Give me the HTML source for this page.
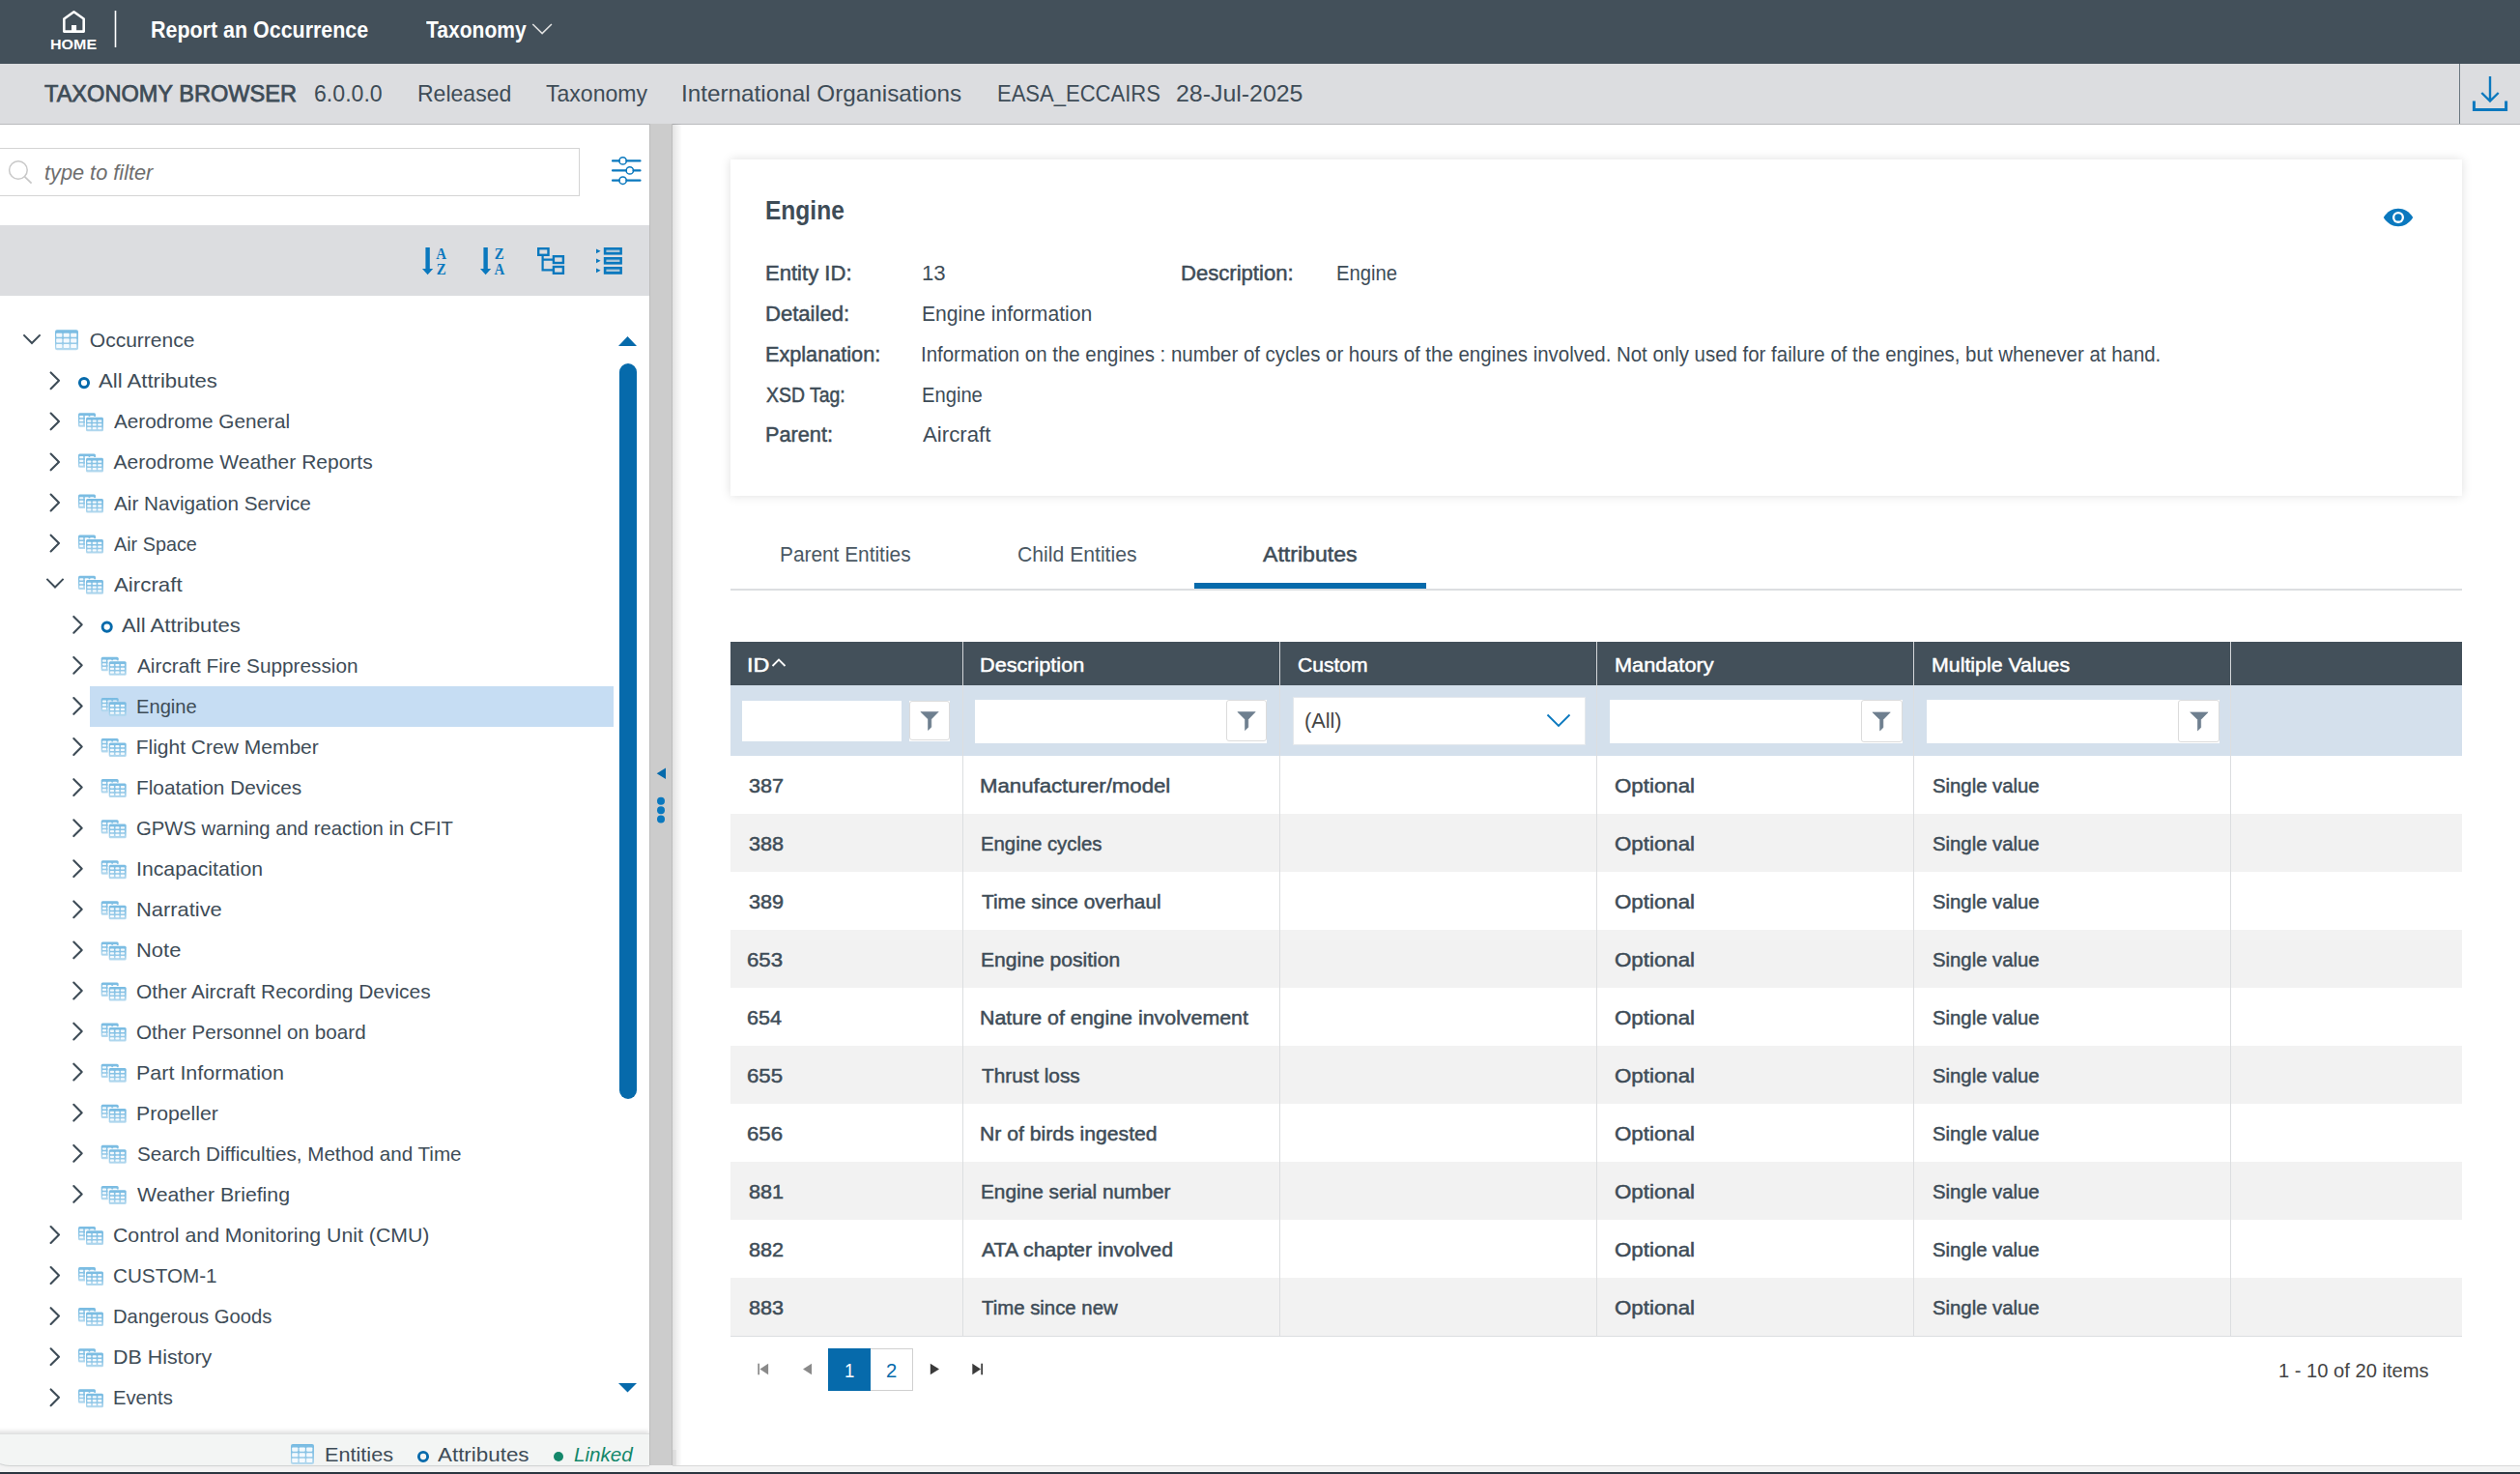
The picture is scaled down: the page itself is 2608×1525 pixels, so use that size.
<!DOCTYPE html><html><head><meta charset="utf-8"><style>
html,body{margin:0;padding:0;width:2608px;height:1525px;overflow:hidden;background:#fff;font-family:"Liberation Sans", sans-serif;}
.a{position:absolute;}
.tx{position:absolute;white-space:nowrap;transform-origin:0 0;}
svg{position:absolute;overflow:visible;}

</style></head><body>
<div class="a" style="left:0px;top:0px;width:2608px;height:66px;background:#43505a;"></div>
<svg style="left:0;top:0" width="200" height="66"><path d="M66.3 19.5 L76.5 12.3 L86.7 19.5 L86.7 32.6 L66.3 32.6 Z" fill="none" stroke="#fff" stroke-width="2.6" stroke-linejoin="round"/><rect x="74" y="26" width="5.1" height="7" fill="#fff"/><rect x="118.7" y="11" width="1.6" height="38" fill="#fff"/></svg>
<svg style="left:0;top:0" width="600" height="66"><path d="M551.3 25 L561.1 34.6 L570.9 25" fill="none" stroke="#e0e0e0" stroke-width="1.6"/></svg>
<div class="a" style="left:0px;top:66px;width:2608px;height:62px;background:#dcdde0;"></div>
<div class="a" style="left:0px;top:128px;width:2608px;height:1px;background:#b9babd;"></div>
<div class="a" style="left:2544.5px;top:66px;width:1.300000000000182px;height:62px;background:#6b7780;"></div>
<svg style="left:0;top:0" width="2608" height="130"><path d="M2577 79 L2577 104.5 M2568.3 96 L2577 104.5 L2585.7 96" fill="none" stroke="#0a78be" stroke-width="2.4"/><path d="M2560.4 104.5 L2560.4 113.6 L2593.6 113.6 L2593.6 104.5" fill="none" stroke="#0a78be" stroke-width="3"/></svg>
<div class="a" style="left:-2px;top:153px;width:601.5px;height:50px;background:#fff;border:1px solid #d4d4d4;box-sizing:border-box;"></div>
<svg style="left:0;top:0" width="60" height="220"><circle cx="18.9" cy="176" r="9.3" fill="none" stroke="#c8c8c8" stroke-width="1.5"/><path d="M25.6 182.8 L32.6 189.6" stroke="#c8c8c8" stroke-width="1.8"/></svg>
<svg style="left:0;top:0" width="700" height="220"><g stroke="#0a78be" stroke-width="2.2" fill="none" stroke-linecap="round">
<path d="M634 166.4 H640.8 M648.4 166.4 H662.5"/><circle cx="644.6" cy="166.4" r="3.7" stroke-width="1.5"/>
<path d="M634 176.4 H648 M655.6 176.4 H662.5"/><circle cx="651.8" cy="176.4" r="3.7" stroke-width="1.5"/>
<path d="M634 186.7 H640.8 M648.4 186.7 H662.5"/><circle cx="644.6" cy="186.7" r="3.7" stroke-width="1.5"/>
</g></svg>
<div class="a" style="left:0px;top:233px;width:672px;height:72.5px;background:#dcdde0;"></div>
<svg style="left:0;top:0" width="700" height="320"><g fill="#0a78be">
<rect x="440.4" y="256" width="4.4" height="23"/><path d="M437 278 L448.2 278 L442.6 284.2 Z"/>
<text x="456.6" y="268" font-family="Liberation Serif" font-weight="bold" font-size="16.5" text-anchor="middle" transform="translate(456.6,0) scale(0.9,1) translate(-456.6,0)">A</text>
<text x="456.6" y="284.2" font-family="Liberation Serif" font-weight="bold" font-size="16.5" text-anchor="middle" transform="translate(456.6,0) scale(0.9,1) translate(-456.6,0)">Z</text>
<rect x="500.4" y="256" width="4.4" height="23"/><path d="M497 278 L508.2 278 L502.6 284.2 Z"/>
<text x="516.8" y="268" font-family="Liberation Serif" font-weight="bold" font-size="16.5" text-anchor="middle" transform="translate(516.8,0) scale(0.9,1) translate(-516.8,0)">Z</text>
<text x="516.8" y="284.2" font-family="Liberation Serif" font-weight="bold" font-size="16.5" text-anchor="middle" transform="translate(516.8,0) scale(0.9,1) translate(-516.8,0)">A</text>
</g>
<g stroke="#0a78be" fill="none" stroke-width="2.4">
<rect x="557.2" y="257.2" width="10.3" height="6.6"/>
<rect x="572.9" y="265.2" width="10" height="6.8"/>
<rect x="572.9" y="276" width="10" height="6.8"/>
<path d="M561.6 264 V279.4 H572.9 M561.6 268.6 H572.9" stroke-width="2.2"/>
</g>
<g fill="#0a78be">
<rect x="624.8" y="256" width="19.1" height="7.6"/><rect x="627.4" y="258.6" width="14" height="2.4" fill="#dcdde0" opacity="0.75"/>
<rect x="624.8" y="266" width="19.1" height="7.6"/><rect x="627.4" y="268.6" width="14" height="2.4" fill="#dcdde0" opacity="0.75"/>
<rect x="624.8" y="276" width="19.1" height="7.8"/><rect x="627.4" y="278.6" width="14" height="2.4" fill="#dcdde0" opacity="0.75"/>
<path d="M617 257.4 L621.6 259.8 L617 262.2 Z"/><path d="M617 267.4 L621.6 269.8 L617 272.2 Z"/><path d="M617 277.4 L621.6 279.8 L617 282.2 Z"/>
</g></svg>
<div class="a" style="left:93px;top:710px;width:541.6px;height:42px;background:#c6ddf3;"></div>
<svg style="left:0;top:0" width="700" height="1525"><defs><linearGradient id="tg" x1="0" y1="0" x2="0" y2="1"><stop offset="0" stop-color="#78bbe2"/><stop offset="0.6" stop-color="#90c7e7"/><stop offset="1" stop-color="#b6daef"/></linearGradient></defs><path d="M24.4 346.4 L33.0 355.0 L41.6 346.4" fill="none" stroke="#3e4c57" stroke-width="2"/><rect x="57" y="341.2" width="24" height="21" rx="2.0" fill="url(#tg)"/><rect x="58.20" y="344.74" width="6.17" height="4.12" rx="0.8" fill="#fbfdff" opacity="0.93"/><rect x="65.67" y="344.74" width="6.17" height="4.12" rx="0.8" fill="#fbfdff" opacity="0.93"/><rect x="73.13" y="344.74" width="6.17" height="4.12" rx="0.8" fill="#fbfdff" opacity="0.93"/><rect x="58.20" y="350.36" width="6.17" height="4.12" rx="0.8" fill="#fbfdff" opacity="0.93"/><rect x="65.67" y="350.36" width="6.17" height="4.12" rx="0.8" fill="#fbfdff" opacity="0.93"/><rect x="73.13" y="350.36" width="6.17" height="4.12" rx="0.8" fill="#fbfdff" opacity="0.93"/><rect x="58.20" y="355.98" width="6.17" height="4.12" rx="0.8" fill="#fbfdff" opacity="0.93"/><rect x="65.67" y="355.98" width="6.17" height="4.12" rx="0.8" fill="#fbfdff" opacity="0.93"/><rect x="73.13" y="355.98" width="6.17" height="4.12" rx="0.8" fill="#fbfdff" opacity="0.93"/><path d="M52.6 385.4 L61.0 393.8 L52.6 402.2" fill="none" stroke="#3e4c57" stroke-width="2.1" stroke-linecap="round" stroke-linejoin="round"/><circle cx="87.0" cy="396.1" r="4.6" fill="none" stroke="#066aab" stroke-width="2.9"/><path d="M52.6 427.5 L61.0 435.9 L52.6 444.3" fill="none" stroke="#3e4c57" stroke-width="2.1" stroke-linecap="round" stroke-linejoin="round"/><rect x="81.0" y="427.35999999999996" width="18" height="14.4" rx="1.5" fill="url(#tg)"/><rect x="82.20" y="429.98" width="4.17" height="2.23" rx="0.8" fill="#fbfdff" opacity="0.93"/><rect x="87.67" y="429.98" width="4.17" height="2.23" rx="0.8" fill="#fbfdff" opacity="0.93"/><rect x="93.13" y="429.98" width="4.17" height="2.23" rx="0.8" fill="#fbfdff" opacity="0.93"/><rect x="82.20" y="433.70" width="4.17" height="2.23" rx="0.8" fill="#fbfdff" opacity="0.93"/><rect x="87.67" y="433.70" width="4.17" height="2.23" rx="0.8" fill="#fbfdff" opacity="0.93"/><rect x="93.13" y="433.70" width="4.17" height="2.23" rx="0.8" fill="#fbfdff" opacity="0.93"/><rect x="82.20" y="437.43" width="4.17" height="2.23" rx="0.8" fill="#fbfdff" opacity="0.93"/><rect x="87.67" y="437.43" width="4.17" height="2.23" rx="0.8" fill="#fbfdff" opacity="0.93"/><rect x="93.13" y="437.43" width="4.17" height="2.23" rx="0.8" fill="#fbfdff" opacity="0.93"/><rect x="88.0" y="431.0" width="19" height="15.6" fill="#fff"/><rect x="89.0" y="431.75999999999993" width="18" height="14.6" rx="1.5" fill="url(#tg)"/><rect x="90.20" y="434.40" width="4.17" height="2.29" rx="0.8" fill="#fbfdff" opacity="0.93"/><rect x="95.67" y="434.40" width="4.17" height="2.29" rx="0.8" fill="#fbfdff" opacity="0.93"/><rect x="101.13" y="434.40" width="4.17" height="2.29" rx="0.8" fill="#fbfdff" opacity="0.93"/><rect x="90.20" y="438.19" width="4.17" height="2.29" rx="0.8" fill="#fbfdff" opacity="0.93"/><rect x="95.67" y="438.19" width="4.17" height="2.29" rx="0.8" fill="#fbfdff" opacity="0.93"/><rect x="101.13" y="438.19" width="4.17" height="2.29" rx="0.8" fill="#fbfdff" opacity="0.93"/><rect x="90.20" y="441.97" width="4.17" height="2.29" rx="0.8" fill="#fbfdff" opacity="0.93"/><rect x="95.67" y="441.97" width="4.17" height="2.29" rx="0.8" fill="#fbfdff" opacity="0.93"/><rect x="101.13" y="441.97" width="4.17" height="2.29" rx="0.8" fill="#fbfdff" opacity="0.93"/><path d="M52.6 469.5 L61.0 477.9 L52.6 486.3" fill="none" stroke="#3e4c57" stroke-width="2.1" stroke-linecap="round" stroke-linejoin="round"/><rect x="81.0" y="469.44" width="18" height="14.4" rx="1.5" fill="url(#tg)"/><rect x="82.20" y="472.06" width="4.17" height="2.23" rx="0.8" fill="#fbfdff" opacity="0.93"/><rect x="87.67" y="472.06" width="4.17" height="2.23" rx="0.8" fill="#fbfdff" opacity="0.93"/><rect x="93.13" y="472.06" width="4.17" height="2.23" rx="0.8" fill="#fbfdff" opacity="0.93"/><rect x="82.20" y="475.78" width="4.17" height="2.23" rx="0.8" fill="#fbfdff" opacity="0.93"/><rect x="87.67" y="475.78" width="4.17" height="2.23" rx="0.8" fill="#fbfdff" opacity="0.93"/><rect x="93.13" y="475.78" width="4.17" height="2.23" rx="0.8" fill="#fbfdff" opacity="0.93"/><rect x="82.20" y="479.51" width="4.17" height="2.23" rx="0.8" fill="#fbfdff" opacity="0.93"/><rect x="87.67" y="479.51" width="4.17" height="2.23" rx="0.8" fill="#fbfdff" opacity="0.93"/><rect x="93.13" y="479.51" width="4.17" height="2.23" rx="0.8" fill="#fbfdff" opacity="0.93"/><rect x="88.0" y="473.0" width="19" height="15.6" fill="#fff"/><rect x="89.0" y="473.84" width="18" height="14.6" rx="1.5" fill="url(#tg)"/><rect x="90.20" y="476.48" width="4.17" height="2.29" rx="0.8" fill="#fbfdff" opacity="0.93"/><rect x="95.67" y="476.48" width="4.17" height="2.29" rx="0.8" fill="#fbfdff" opacity="0.93"/><rect x="101.13" y="476.48" width="4.17" height="2.29" rx="0.8" fill="#fbfdff" opacity="0.93"/><rect x="90.20" y="480.27" width="4.17" height="2.29" rx="0.8" fill="#fbfdff" opacity="0.93"/><rect x="95.67" y="480.27" width="4.17" height="2.29" rx="0.8" fill="#fbfdff" opacity="0.93"/><rect x="101.13" y="480.27" width="4.17" height="2.29" rx="0.8" fill="#fbfdff" opacity="0.93"/><rect x="90.20" y="484.05" width="4.17" height="2.29" rx="0.8" fill="#fbfdff" opacity="0.93"/><rect x="95.67" y="484.05" width="4.17" height="2.29" rx="0.8" fill="#fbfdff" opacity="0.93"/><rect x="101.13" y="484.05" width="4.17" height="2.29" rx="0.8" fill="#fbfdff" opacity="0.93"/><path d="M52.6 511.6 L61.0 520.0 L52.6 528.4" fill="none" stroke="#3e4c57" stroke-width="2.1" stroke-linecap="round" stroke-linejoin="round"/><rect x="81.0" y="511.5199999999999" width="18" height="14.4" rx="1.5" fill="url(#tg)"/><rect x="82.20" y="514.14" width="4.17" height="2.23" rx="0.8" fill="#fbfdff" opacity="0.93"/><rect x="87.67" y="514.14" width="4.17" height="2.23" rx="0.8" fill="#fbfdff" opacity="0.93"/><rect x="93.13" y="514.14" width="4.17" height="2.23" rx="0.8" fill="#fbfdff" opacity="0.93"/><rect x="82.20" y="517.86" width="4.17" height="2.23" rx="0.8" fill="#fbfdff" opacity="0.93"/><rect x="87.67" y="517.86" width="4.17" height="2.23" rx="0.8" fill="#fbfdff" opacity="0.93"/><rect x="93.13" y="517.86" width="4.17" height="2.23" rx="0.8" fill="#fbfdff" opacity="0.93"/><rect x="82.20" y="521.59" width="4.17" height="2.23" rx="0.8" fill="#fbfdff" opacity="0.93"/><rect x="87.67" y="521.59" width="4.17" height="2.23" rx="0.8" fill="#fbfdff" opacity="0.93"/><rect x="93.13" y="521.59" width="4.17" height="2.23" rx="0.8" fill="#fbfdff" opacity="0.93"/><rect x="88.0" y="515.1" width="19" height="15.6" fill="#fff"/><rect x="89.0" y="515.92" width="18" height="14.6" rx="1.5" fill="url(#tg)"/><rect x="90.20" y="518.56" width="4.17" height="2.29" rx="0.8" fill="#fbfdff" opacity="0.93"/><rect x="95.67" y="518.56" width="4.17" height="2.29" rx="0.8" fill="#fbfdff" opacity="0.93"/><rect x="101.13" y="518.56" width="4.17" height="2.29" rx="0.8" fill="#fbfdff" opacity="0.93"/><rect x="90.20" y="522.35" width="4.17" height="2.29" rx="0.8" fill="#fbfdff" opacity="0.93"/><rect x="95.67" y="522.35" width="4.17" height="2.29" rx="0.8" fill="#fbfdff" opacity="0.93"/><rect x="101.13" y="522.35" width="4.17" height="2.29" rx="0.8" fill="#fbfdff" opacity="0.93"/><rect x="90.20" y="526.13" width="4.17" height="2.29" rx="0.8" fill="#fbfdff" opacity="0.93"/><rect x="95.67" y="526.13" width="4.17" height="2.29" rx="0.8" fill="#fbfdff" opacity="0.93"/><rect x="101.13" y="526.13" width="4.17" height="2.29" rx="0.8" fill="#fbfdff" opacity="0.93"/><path d="M52.6 553.7 L61.0 562.1 L52.6 570.5" fill="none" stroke="#3e4c57" stroke-width="2.1" stroke-linecap="round" stroke-linejoin="round"/><rect x="81.0" y="553.5999999999999" width="18" height="14.4" rx="1.5" fill="url(#tg)"/><rect x="82.20" y="556.22" width="4.17" height="2.23" rx="0.8" fill="#fbfdff" opacity="0.93"/><rect x="87.67" y="556.22" width="4.17" height="2.23" rx="0.8" fill="#fbfdff" opacity="0.93"/><rect x="93.13" y="556.22" width="4.17" height="2.23" rx="0.8" fill="#fbfdff" opacity="0.93"/><rect x="82.20" y="559.94" width="4.17" height="2.23" rx="0.8" fill="#fbfdff" opacity="0.93"/><rect x="87.67" y="559.94" width="4.17" height="2.23" rx="0.8" fill="#fbfdff" opacity="0.93"/><rect x="93.13" y="559.94" width="4.17" height="2.23" rx="0.8" fill="#fbfdff" opacity="0.93"/><rect x="82.20" y="563.67" width="4.17" height="2.23" rx="0.8" fill="#fbfdff" opacity="0.93"/><rect x="87.67" y="563.67" width="4.17" height="2.23" rx="0.8" fill="#fbfdff" opacity="0.93"/><rect x="93.13" y="563.67" width="4.17" height="2.23" rx="0.8" fill="#fbfdff" opacity="0.93"/><rect x="88.0" y="557.2" width="19" height="15.6" fill="#fff"/><rect x="89.0" y="558.0" width="18" height="14.6" rx="1.5" fill="url(#tg)"/><rect x="90.20" y="560.64" width="4.17" height="2.29" rx="0.8" fill="#fbfdff" opacity="0.93"/><rect x="95.67" y="560.64" width="4.17" height="2.29" rx="0.8" fill="#fbfdff" opacity="0.93"/><rect x="101.13" y="560.64" width="4.17" height="2.29" rx="0.8" fill="#fbfdff" opacity="0.93"/><rect x="90.20" y="564.43" width="4.17" height="2.29" rx="0.8" fill="#fbfdff" opacity="0.93"/><rect x="95.67" y="564.43" width="4.17" height="2.29" rx="0.8" fill="#fbfdff" opacity="0.93"/><rect x="101.13" y="564.43" width="4.17" height="2.29" rx="0.8" fill="#fbfdff" opacity="0.93"/><rect x="90.20" y="568.21" width="4.17" height="2.29" rx="0.8" fill="#fbfdff" opacity="0.93"/><rect x="95.67" y="568.21" width="4.17" height="2.29" rx="0.8" fill="#fbfdff" opacity="0.93"/><rect x="101.13" y="568.21" width="4.17" height="2.29" rx="0.8" fill="#fbfdff" opacity="0.93"/><path d="M48.4 598.9 L57.0 607.5 L65.6 598.9" fill="none" stroke="#3e4c57" stroke-width="2"/><rect x="81.0" y="595.68" width="18" height="14.4" rx="1.5" fill="url(#tg)"/><rect x="82.20" y="598.30" width="4.17" height="2.23" rx="0.8" fill="#fbfdff" opacity="0.93"/><rect x="87.67" y="598.30" width="4.17" height="2.23" rx="0.8" fill="#fbfdff" opacity="0.93"/><rect x="93.13" y="598.30" width="4.17" height="2.23" rx="0.8" fill="#fbfdff" opacity="0.93"/><rect x="82.20" y="602.02" width="4.17" height="2.23" rx="0.8" fill="#fbfdff" opacity="0.93"/><rect x="87.67" y="602.02" width="4.17" height="2.23" rx="0.8" fill="#fbfdff" opacity="0.93"/><rect x="93.13" y="602.02" width="4.17" height="2.23" rx="0.8" fill="#fbfdff" opacity="0.93"/><rect x="82.20" y="605.75" width="4.17" height="2.23" rx="0.8" fill="#fbfdff" opacity="0.93"/><rect x="87.67" y="605.75" width="4.17" height="2.23" rx="0.8" fill="#fbfdff" opacity="0.93"/><rect x="93.13" y="605.75" width="4.17" height="2.23" rx="0.8" fill="#fbfdff" opacity="0.93"/><rect x="88.0" y="599.3" width="19" height="15.6" fill="#fff"/><rect x="89.0" y="600.08" width="18" height="14.6" rx="1.5" fill="url(#tg)"/><rect x="90.20" y="602.72" width="4.17" height="2.29" rx="0.8" fill="#fbfdff" opacity="0.93"/><rect x="95.67" y="602.72" width="4.17" height="2.29" rx="0.8" fill="#fbfdff" opacity="0.93"/><rect x="101.13" y="602.72" width="4.17" height="2.29" rx="0.8" fill="#fbfdff" opacity="0.93"/><rect x="90.20" y="606.51" width="4.17" height="2.29" rx="0.8" fill="#fbfdff" opacity="0.93"/><rect x="95.67" y="606.51" width="4.17" height="2.29" rx="0.8" fill="#fbfdff" opacity="0.93"/><rect x="101.13" y="606.51" width="4.17" height="2.29" rx="0.8" fill="#fbfdff" opacity="0.93"/><rect x="90.20" y="610.29" width="4.17" height="2.29" rx="0.8" fill="#fbfdff" opacity="0.93"/><rect x="95.67" y="610.29" width="4.17" height="2.29" rx="0.8" fill="#fbfdff" opacity="0.93"/><rect x="101.13" y="610.29" width="4.17" height="2.29" rx="0.8" fill="#fbfdff" opacity="0.93"/><path d="M76.3 637.9 L84.7 646.3 L76.3 654.7" fill="none" stroke="#3e4c57" stroke-width="2.1" stroke-linecap="round" stroke-linejoin="round"/><circle cx="110.7" cy="648.6" r="4.6" fill="none" stroke="#066aab" stroke-width="2.9"/><path d="M76.3 679.9 L84.7 688.3 L76.3 696.7" fill="none" stroke="#3e4c57" stroke-width="2.1" stroke-linecap="round" stroke-linejoin="round"/><rect x="104.7" y="679.8399999999999" width="18" height="14.4" rx="1.5" fill="url(#tg)"/><rect x="105.90" y="682.46" width="4.17" height="2.23" rx="0.8" fill="#fbfdff" opacity="0.93"/><rect x="111.37" y="682.46" width="4.17" height="2.23" rx="0.8" fill="#fbfdff" opacity="0.93"/><rect x="116.83" y="682.46" width="4.17" height="2.23" rx="0.8" fill="#fbfdff" opacity="0.93"/><rect x="105.90" y="686.18" width="4.17" height="2.23" rx="0.8" fill="#fbfdff" opacity="0.93"/><rect x="111.37" y="686.18" width="4.17" height="2.23" rx="0.8" fill="#fbfdff" opacity="0.93"/><rect x="116.83" y="686.18" width="4.17" height="2.23" rx="0.8" fill="#fbfdff" opacity="0.93"/><rect x="105.90" y="689.91" width="4.17" height="2.23" rx="0.8" fill="#fbfdff" opacity="0.93"/><rect x="111.37" y="689.91" width="4.17" height="2.23" rx="0.8" fill="#fbfdff" opacity="0.93"/><rect x="116.83" y="689.91" width="4.17" height="2.23" rx="0.8" fill="#fbfdff" opacity="0.93"/><rect x="111.7" y="683.4" width="19" height="15.6" fill="#fff"/><rect x="112.7" y="684.24" width="18" height="14.6" rx="1.5" fill="url(#tg)"/><rect x="113.90" y="686.88" width="4.17" height="2.29" rx="0.8" fill="#fbfdff" opacity="0.93"/><rect x="119.37" y="686.88" width="4.17" height="2.29" rx="0.8" fill="#fbfdff" opacity="0.93"/><rect x="124.83" y="686.88" width="4.17" height="2.29" rx="0.8" fill="#fbfdff" opacity="0.93"/><rect x="113.90" y="690.67" width="4.17" height="2.29" rx="0.8" fill="#fbfdff" opacity="0.93"/><rect x="119.37" y="690.67" width="4.17" height="2.29" rx="0.8" fill="#fbfdff" opacity="0.93"/><rect x="124.83" y="690.67" width="4.17" height="2.29" rx="0.8" fill="#fbfdff" opacity="0.93"/><rect x="113.90" y="694.45" width="4.17" height="2.29" rx="0.8" fill="#fbfdff" opacity="0.93"/><rect x="119.37" y="694.45" width="4.17" height="2.29" rx="0.8" fill="#fbfdff" opacity="0.93"/><rect x="124.83" y="694.45" width="4.17" height="2.29" rx="0.8" fill="#fbfdff" opacity="0.93"/><path d="M76.3 722.0 L84.7 730.4 L76.3 738.8" fill="none" stroke="#3e4c57" stroke-width="2.1" stroke-linecap="round" stroke-linejoin="round"/><rect x="104.7" y="721.92" width="18" height="14.4" rx="1.5" fill="url(#tg)"/><rect x="105.90" y="724.54" width="4.17" height="2.23" rx="0.8" fill="#fbfdff" opacity="0.93"/><rect x="111.37" y="724.54" width="4.17" height="2.23" rx="0.8" fill="#fbfdff" opacity="0.93"/><rect x="116.83" y="724.54" width="4.17" height="2.23" rx="0.8" fill="#fbfdff" opacity="0.93"/><rect x="105.90" y="728.26" width="4.17" height="2.23" rx="0.8" fill="#fbfdff" opacity="0.93"/><rect x="111.37" y="728.26" width="4.17" height="2.23" rx="0.8" fill="#fbfdff" opacity="0.93"/><rect x="116.83" y="728.26" width="4.17" height="2.23" rx="0.8" fill="#fbfdff" opacity="0.93"/><rect x="105.90" y="731.99" width="4.17" height="2.23" rx="0.8" fill="#fbfdff" opacity="0.93"/><rect x="111.37" y="731.99" width="4.17" height="2.23" rx="0.8" fill="#fbfdff" opacity="0.93"/><rect x="116.83" y="731.99" width="4.17" height="2.23" rx="0.8" fill="#fbfdff" opacity="0.93"/><rect x="111.7" y="725.5" width="19" height="15.6" fill="#c6ddf3"/><rect x="112.7" y="726.32" width="18" height="14.6" rx="1.5" fill="url(#tg)"/><rect x="113.90" y="728.96" width="4.17" height="2.29" rx="0.8" fill="#fbfdff" opacity="0.93"/><rect x="119.37" y="728.96" width="4.17" height="2.29" rx="0.8" fill="#fbfdff" opacity="0.93"/><rect x="124.83" y="728.96" width="4.17" height="2.29" rx="0.8" fill="#fbfdff" opacity="0.93"/><rect x="113.90" y="732.75" width="4.17" height="2.29" rx="0.8" fill="#fbfdff" opacity="0.93"/><rect x="119.37" y="732.75" width="4.17" height="2.29" rx="0.8" fill="#fbfdff" opacity="0.93"/><rect x="124.83" y="732.75" width="4.17" height="2.29" rx="0.8" fill="#fbfdff" opacity="0.93"/><rect x="113.90" y="736.53" width="4.17" height="2.29" rx="0.8" fill="#fbfdff" opacity="0.93"/><rect x="119.37" y="736.53" width="4.17" height="2.29" rx="0.8" fill="#fbfdff" opacity="0.93"/><rect x="124.83" y="736.53" width="4.17" height="2.29" rx="0.8" fill="#fbfdff" opacity="0.93"/><path d="M76.3 764.1 L84.7 772.5 L76.3 780.9" fill="none" stroke="#3e4c57" stroke-width="2.1" stroke-linecap="round" stroke-linejoin="round"/><rect x="104.7" y="763.9999999999999" width="18" height="14.4" rx="1.5" fill="url(#tg)"/><rect x="105.90" y="766.62" width="4.17" height="2.23" rx="0.8" fill="#fbfdff" opacity="0.93"/><rect x="111.37" y="766.62" width="4.17" height="2.23" rx="0.8" fill="#fbfdff" opacity="0.93"/><rect x="116.83" y="766.62" width="4.17" height="2.23" rx="0.8" fill="#fbfdff" opacity="0.93"/><rect x="105.90" y="770.34" width="4.17" height="2.23" rx="0.8" fill="#fbfdff" opacity="0.93"/><rect x="111.37" y="770.34" width="4.17" height="2.23" rx="0.8" fill="#fbfdff" opacity="0.93"/><rect x="116.83" y="770.34" width="4.17" height="2.23" rx="0.8" fill="#fbfdff" opacity="0.93"/><rect x="105.90" y="774.07" width="4.17" height="2.23" rx="0.8" fill="#fbfdff" opacity="0.93"/><rect x="111.37" y="774.07" width="4.17" height="2.23" rx="0.8" fill="#fbfdff" opacity="0.93"/><rect x="116.83" y="774.07" width="4.17" height="2.23" rx="0.8" fill="#fbfdff" opacity="0.93"/><rect x="111.7" y="767.6" width="19" height="15.6" fill="#fff"/><rect x="112.7" y="768.4" width="18" height="14.6" rx="1.5" fill="url(#tg)"/><rect x="113.90" y="771.04" width="4.17" height="2.29" rx="0.8" fill="#fbfdff" opacity="0.93"/><rect x="119.37" y="771.04" width="4.17" height="2.29" rx="0.8" fill="#fbfdff" opacity="0.93"/><rect x="124.83" y="771.04" width="4.17" height="2.29" rx="0.8" fill="#fbfdff" opacity="0.93"/><rect x="113.90" y="774.83" width="4.17" height="2.29" rx="0.8" fill="#fbfdff" opacity="0.93"/><rect x="119.37" y="774.83" width="4.17" height="2.29" rx="0.8" fill="#fbfdff" opacity="0.93"/><rect x="124.83" y="774.83" width="4.17" height="2.29" rx="0.8" fill="#fbfdff" opacity="0.93"/><rect x="113.90" y="778.61" width="4.17" height="2.29" rx="0.8" fill="#fbfdff" opacity="0.93"/><rect x="119.37" y="778.61" width="4.17" height="2.29" rx="0.8" fill="#fbfdff" opacity="0.93"/><rect x="124.83" y="778.61" width="4.17" height="2.29" rx="0.8" fill="#fbfdff" opacity="0.93"/><path d="M76.3 806.2 L84.7 814.6 L76.3 823.0" fill="none" stroke="#3e4c57" stroke-width="2.1" stroke-linecap="round" stroke-linejoin="round"/><rect x="104.7" y="806.0799999999999" width="18" height="14.4" rx="1.5" fill="url(#tg)"/><rect x="105.90" y="808.70" width="4.17" height="2.23" rx="0.8" fill="#fbfdff" opacity="0.93"/><rect x="111.37" y="808.70" width="4.17" height="2.23" rx="0.8" fill="#fbfdff" opacity="0.93"/><rect x="116.83" y="808.70" width="4.17" height="2.23" rx="0.8" fill="#fbfdff" opacity="0.93"/><rect x="105.90" y="812.42" width="4.17" height="2.23" rx="0.8" fill="#fbfdff" opacity="0.93"/><rect x="111.37" y="812.42" width="4.17" height="2.23" rx="0.8" fill="#fbfdff" opacity="0.93"/><rect x="116.83" y="812.42" width="4.17" height="2.23" rx="0.8" fill="#fbfdff" opacity="0.93"/><rect x="105.90" y="816.15" width="4.17" height="2.23" rx="0.8" fill="#fbfdff" opacity="0.93"/><rect x="111.37" y="816.15" width="4.17" height="2.23" rx="0.8" fill="#fbfdff" opacity="0.93"/><rect x="116.83" y="816.15" width="4.17" height="2.23" rx="0.8" fill="#fbfdff" opacity="0.93"/><rect x="111.7" y="809.7" width="19" height="15.6" fill="#fff"/><rect x="112.7" y="810.48" width="18" height="14.6" rx="1.5" fill="url(#tg)"/><rect x="113.90" y="813.12" width="4.17" height="2.29" rx="0.8" fill="#fbfdff" opacity="0.93"/><rect x="119.37" y="813.12" width="4.17" height="2.29" rx="0.8" fill="#fbfdff" opacity="0.93"/><rect x="124.83" y="813.12" width="4.17" height="2.29" rx="0.8" fill="#fbfdff" opacity="0.93"/><rect x="113.90" y="816.91" width="4.17" height="2.29" rx="0.8" fill="#fbfdff" opacity="0.93"/><rect x="119.37" y="816.91" width="4.17" height="2.29" rx="0.8" fill="#fbfdff" opacity="0.93"/><rect x="124.83" y="816.91" width="4.17" height="2.29" rx="0.8" fill="#fbfdff" opacity="0.93"/><rect x="113.90" y="820.69" width="4.17" height="2.29" rx="0.8" fill="#fbfdff" opacity="0.93"/><rect x="119.37" y="820.69" width="4.17" height="2.29" rx="0.8" fill="#fbfdff" opacity="0.93"/><rect x="124.83" y="820.69" width="4.17" height="2.29" rx="0.8" fill="#fbfdff" opacity="0.93"/><path d="M76.3 848.3 L84.7 856.7 L76.3 865.1" fill="none" stroke="#3e4c57" stroke-width="2.1" stroke-linecap="round" stroke-linejoin="round"/><rect x="104.7" y="848.16" width="18" height="14.4" rx="1.5" fill="url(#tg)"/><rect x="105.90" y="850.78" width="4.17" height="2.23" rx="0.8" fill="#fbfdff" opacity="0.93"/><rect x="111.37" y="850.78" width="4.17" height="2.23" rx="0.8" fill="#fbfdff" opacity="0.93"/><rect x="116.83" y="850.78" width="4.17" height="2.23" rx="0.8" fill="#fbfdff" opacity="0.93"/><rect x="105.90" y="854.50" width="4.17" height="2.23" rx="0.8" fill="#fbfdff" opacity="0.93"/><rect x="111.37" y="854.50" width="4.17" height="2.23" rx="0.8" fill="#fbfdff" opacity="0.93"/><rect x="116.83" y="854.50" width="4.17" height="2.23" rx="0.8" fill="#fbfdff" opacity="0.93"/><rect x="105.90" y="858.23" width="4.17" height="2.23" rx="0.8" fill="#fbfdff" opacity="0.93"/><rect x="111.37" y="858.23" width="4.17" height="2.23" rx="0.8" fill="#fbfdff" opacity="0.93"/><rect x="116.83" y="858.23" width="4.17" height="2.23" rx="0.8" fill="#fbfdff" opacity="0.93"/><rect x="111.7" y="851.8" width="19" height="15.6" fill="#fff"/><rect x="112.7" y="852.5600000000001" width="18" height="14.6" rx="1.5" fill="url(#tg)"/><rect x="113.90" y="855.20" width="4.17" height="2.29" rx="0.8" fill="#fbfdff" opacity="0.93"/><rect x="119.37" y="855.20" width="4.17" height="2.29" rx="0.8" fill="#fbfdff" opacity="0.93"/><rect x="124.83" y="855.20" width="4.17" height="2.29" rx="0.8" fill="#fbfdff" opacity="0.93"/><rect x="113.90" y="858.99" width="4.17" height="2.29" rx="0.8" fill="#fbfdff" opacity="0.93"/><rect x="119.37" y="858.99" width="4.17" height="2.29" rx="0.8" fill="#fbfdff" opacity="0.93"/><rect x="124.83" y="858.99" width="4.17" height="2.29" rx="0.8" fill="#fbfdff" opacity="0.93"/><rect x="113.90" y="862.77" width="4.17" height="2.29" rx="0.8" fill="#fbfdff" opacity="0.93"/><rect x="119.37" y="862.77" width="4.17" height="2.29" rx="0.8" fill="#fbfdff" opacity="0.93"/><rect x="124.83" y="862.77" width="4.17" height="2.29" rx="0.8" fill="#fbfdff" opacity="0.93"/><path d="M76.3 890.3 L84.7 898.7 L76.3 907.1" fill="none" stroke="#3e4c57" stroke-width="2.1" stroke-linecap="round" stroke-linejoin="round"/><rect x="104.7" y="890.2399999999999" width="18" height="14.4" rx="1.5" fill="url(#tg)"/><rect x="105.90" y="892.86" width="4.17" height="2.23" rx="0.8" fill="#fbfdff" opacity="0.93"/><rect x="111.37" y="892.86" width="4.17" height="2.23" rx="0.8" fill="#fbfdff" opacity="0.93"/><rect x="116.83" y="892.86" width="4.17" height="2.23" rx="0.8" fill="#fbfdff" opacity="0.93"/><rect x="105.90" y="896.58" width="4.17" height="2.23" rx="0.8" fill="#fbfdff" opacity="0.93"/><rect x="111.37" y="896.58" width="4.17" height="2.23" rx="0.8" fill="#fbfdff" opacity="0.93"/><rect x="116.83" y="896.58" width="4.17" height="2.23" rx="0.8" fill="#fbfdff" opacity="0.93"/><rect x="105.90" y="900.31" width="4.17" height="2.23" rx="0.8" fill="#fbfdff" opacity="0.93"/><rect x="111.37" y="900.31" width="4.17" height="2.23" rx="0.8" fill="#fbfdff" opacity="0.93"/><rect x="116.83" y="900.31" width="4.17" height="2.23" rx="0.8" fill="#fbfdff" opacity="0.93"/><rect x="111.7" y="893.8" width="19" height="15.6" fill="#fff"/><rect x="112.7" y="894.64" width="18" height="14.6" rx="1.5" fill="url(#tg)"/><rect x="113.90" y="897.28" width="4.17" height="2.29" rx="0.8" fill="#fbfdff" opacity="0.93"/><rect x="119.37" y="897.28" width="4.17" height="2.29" rx="0.8" fill="#fbfdff" opacity="0.93"/><rect x="124.83" y="897.28" width="4.17" height="2.29" rx="0.8" fill="#fbfdff" opacity="0.93"/><rect x="113.90" y="901.07" width="4.17" height="2.29" rx="0.8" fill="#fbfdff" opacity="0.93"/><rect x="119.37" y="901.07" width="4.17" height="2.29" rx="0.8" fill="#fbfdff" opacity="0.93"/><rect x="124.83" y="901.07" width="4.17" height="2.29" rx="0.8" fill="#fbfdff" opacity="0.93"/><rect x="113.90" y="904.85" width="4.17" height="2.29" rx="0.8" fill="#fbfdff" opacity="0.93"/><rect x="119.37" y="904.85" width="4.17" height="2.29" rx="0.8" fill="#fbfdff" opacity="0.93"/><rect x="124.83" y="904.85" width="4.17" height="2.29" rx="0.8" fill="#fbfdff" opacity="0.93"/><path d="M76.3 932.4 L84.7 940.8 L76.3 949.2" fill="none" stroke="#3e4c57" stroke-width="2.1" stroke-linecap="round" stroke-linejoin="round"/><rect x="104.7" y="932.3199999999999" width="18" height="14.4" rx="1.5" fill="url(#tg)"/><rect x="105.90" y="934.94" width="4.17" height="2.23" rx="0.8" fill="#fbfdff" opacity="0.93"/><rect x="111.37" y="934.94" width="4.17" height="2.23" rx="0.8" fill="#fbfdff" opacity="0.93"/><rect x="116.83" y="934.94" width="4.17" height="2.23" rx="0.8" fill="#fbfdff" opacity="0.93"/><rect x="105.90" y="938.66" width="4.17" height="2.23" rx="0.8" fill="#fbfdff" opacity="0.93"/><rect x="111.37" y="938.66" width="4.17" height="2.23" rx="0.8" fill="#fbfdff" opacity="0.93"/><rect x="116.83" y="938.66" width="4.17" height="2.23" rx="0.8" fill="#fbfdff" opacity="0.93"/><rect x="105.90" y="942.39" width="4.17" height="2.23" rx="0.8" fill="#fbfdff" opacity="0.93"/><rect x="111.37" y="942.39" width="4.17" height="2.23" rx="0.8" fill="#fbfdff" opacity="0.93"/><rect x="116.83" y="942.39" width="4.17" height="2.23" rx="0.8" fill="#fbfdff" opacity="0.93"/><rect x="111.7" y="935.9" width="19" height="15.6" fill="#fff"/><rect x="112.7" y="936.72" width="18" height="14.6" rx="1.5" fill="url(#tg)"/><rect x="113.90" y="939.36" width="4.17" height="2.29" rx="0.8" fill="#fbfdff" opacity="0.93"/><rect x="119.37" y="939.36" width="4.17" height="2.29" rx="0.8" fill="#fbfdff" opacity="0.93"/><rect x="124.83" y="939.36" width="4.17" height="2.29" rx="0.8" fill="#fbfdff" opacity="0.93"/><rect x="113.90" y="943.15" width="4.17" height="2.29" rx="0.8" fill="#fbfdff" opacity="0.93"/><rect x="119.37" y="943.15" width="4.17" height="2.29" rx="0.8" fill="#fbfdff" opacity="0.93"/><rect x="124.83" y="943.15" width="4.17" height="2.29" rx="0.8" fill="#fbfdff" opacity="0.93"/><rect x="113.90" y="946.93" width="4.17" height="2.29" rx="0.8" fill="#fbfdff" opacity="0.93"/><rect x="119.37" y="946.93" width="4.17" height="2.29" rx="0.8" fill="#fbfdff" opacity="0.93"/><rect x="124.83" y="946.93" width="4.17" height="2.29" rx="0.8" fill="#fbfdff" opacity="0.93"/><path d="M76.3 974.5 L84.7 982.9 L76.3 991.3" fill="none" stroke="#3e4c57" stroke-width="2.1" stroke-linecap="round" stroke-linejoin="round"/><rect x="104.7" y="974.3999999999999" width="18" height="14.4" rx="1.5" fill="url(#tg)"/><rect x="105.90" y="977.02" width="4.17" height="2.23" rx="0.8" fill="#fbfdff" opacity="0.93"/><rect x="111.37" y="977.02" width="4.17" height="2.23" rx="0.8" fill="#fbfdff" opacity="0.93"/><rect x="116.83" y="977.02" width="4.17" height="2.23" rx="0.8" fill="#fbfdff" opacity="0.93"/><rect x="105.90" y="980.74" width="4.17" height="2.23" rx="0.8" fill="#fbfdff" opacity="0.93"/><rect x="111.37" y="980.74" width="4.17" height="2.23" rx="0.8" fill="#fbfdff" opacity="0.93"/><rect x="116.83" y="980.74" width="4.17" height="2.23" rx="0.8" fill="#fbfdff" opacity="0.93"/><rect x="105.90" y="984.47" width="4.17" height="2.23" rx="0.8" fill="#fbfdff" opacity="0.93"/><rect x="111.37" y="984.47" width="4.17" height="2.23" rx="0.8" fill="#fbfdff" opacity="0.93"/><rect x="116.83" y="984.47" width="4.17" height="2.23" rx="0.8" fill="#fbfdff" opacity="0.93"/><rect x="111.7" y="978.0" width="19" height="15.6" fill="#fff"/><rect x="112.7" y="978.8" width="18" height="14.6" rx="1.5" fill="url(#tg)"/><rect x="113.90" y="981.44" width="4.17" height="2.29" rx="0.8" fill="#fbfdff" opacity="0.93"/><rect x="119.37" y="981.44" width="4.17" height="2.29" rx="0.8" fill="#fbfdff" opacity="0.93"/><rect x="124.83" y="981.44" width="4.17" height="2.29" rx="0.8" fill="#fbfdff" opacity="0.93"/><rect x="113.90" y="985.23" width="4.17" height="2.29" rx="0.8" fill="#fbfdff" opacity="0.93"/><rect x="119.37" y="985.23" width="4.17" height="2.29" rx="0.8" fill="#fbfdff" opacity="0.93"/><rect x="124.83" y="985.23" width="4.17" height="2.29" rx="0.8" fill="#fbfdff" opacity="0.93"/><rect x="113.90" y="989.01" width="4.17" height="2.29" rx="0.8" fill="#fbfdff" opacity="0.93"/><rect x="119.37" y="989.01" width="4.17" height="2.29" rx="0.8" fill="#fbfdff" opacity="0.93"/><rect x="124.83" y="989.01" width="4.17" height="2.29" rx="0.8" fill="#fbfdff" opacity="0.93"/><path d="M76.3 1016.6 L84.7 1025.0 L76.3 1033.4" fill="none" stroke="#3e4c57" stroke-width="2.1" stroke-linecap="round" stroke-linejoin="round"/><rect x="104.7" y="1016.48" width="18" height="14.4" rx="1.5" fill="url(#tg)"/><rect x="105.90" y="1019.10" width="4.17" height="2.23" rx="0.8" fill="#fbfdff" opacity="0.93"/><rect x="111.37" y="1019.10" width="4.17" height="2.23" rx="0.8" fill="#fbfdff" opacity="0.93"/><rect x="116.83" y="1019.10" width="4.17" height="2.23" rx="0.8" fill="#fbfdff" opacity="0.93"/><rect x="105.90" y="1022.82" width="4.17" height="2.23" rx="0.8" fill="#fbfdff" opacity="0.93"/><rect x="111.37" y="1022.82" width="4.17" height="2.23" rx="0.8" fill="#fbfdff" opacity="0.93"/><rect x="116.83" y="1022.82" width="4.17" height="2.23" rx="0.8" fill="#fbfdff" opacity="0.93"/><rect x="105.90" y="1026.55" width="4.17" height="2.23" rx="0.8" fill="#fbfdff" opacity="0.93"/><rect x="111.37" y="1026.55" width="4.17" height="2.23" rx="0.8" fill="#fbfdff" opacity="0.93"/><rect x="116.83" y="1026.55" width="4.17" height="2.23" rx="0.8" fill="#fbfdff" opacity="0.93"/><rect x="111.7" y="1020.1" width="19" height="15.6" fill="#fff"/><rect x="112.7" y="1020.8800000000001" width="18" height="14.6" rx="1.5" fill="url(#tg)"/><rect x="113.90" y="1023.52" width="4.17" height="2.29" rx="0.8" fill="#fbfdff" opacity="0.93"/><rect x="119.37" y="1023.52" width="4.17" height="2.29" rx="0.8" fill="#fbfdff" opacity="0.93"/><rect x="124.83" y="1023.52" width="4.17" height="2.29" rx="0.8" fill="#fbfdff" opacity="0.93"/><rect x="113.90" y="1027.31" width="4.17" height="2.29" rx="0.8" fill="#fbfdff" opacity="0.93"/><rect x="119.37" y="1027.31" width="4.17" height="2.29" rx="0.8" fill="#fbfdff" opacity="0.93"/><rect x="124.83" y="1027.31" width="4.17" height="2.29" rx="0.8" fill="#fbfdff" opacity="0.93"/><rect x="113.90" y="1031.09" width="4.17" height="2.29" rx="0.8" fill="#fbfdff" opacity="0.93"/><rect x="119.37" y="1031.09" width="4.17" height="2.29" rx="0.8" fill="#fbfdff" opacity="0.93"/><rect x="124.83" y="1031.09" width="4.17" height="2.29" rx="0.8" fill="#fbfdff" opacity="0.93"/><path d="M76.3 1058.7 L84.7 1067.1 L76.3 1075.5" fill="none" stroke="#3e4c57" stroke-width="2.1" stroke-linecap="round" stroke-linejoin="round"/><rect x="104.7" y="1058.5600000000002" width="18" height="14.4" rx="1.5" fill="url(#tg)"/><rect x="105.90" y="1061.18" width="4.17" height="2.23" rx="0.8" fill="#fbfdff" opacity="0.93"/><rect x="111.37" y="1061.18" width="4.17" height="2.23" rx="0.8" fill="#fbfdff" opacity="0.93"/><rect x="116.83" y="1061.18" width="4.17" height="2.23" rx="0.8" fill="#fbfdff" opacity="0.93"/><rect x="105.90" y="1064.90" width="4.17" height="2.23" rx="0.8" fill="#fbfdff" opacity="0.93"/><rect x="111.37" y="1064.90" width="4.17" height="2.23" rx="0.8" fill="#fbfdff" opacity="0.93"/><rect x="116.83" y="1064.90" width="4.17" height="2.23" rx="0.8" fill="#fbfdff" opacity="0.93"/><rect x="105.90" y="1068.63" width="4.17" height="2.23" rx="0.8" fill="#fbfdff" opacity="0.93"/><rect x="111.37" y="1068.63" width="4.17" height="2.23" rx="0.8" fill="#fbfdff" opacity="0.93"/><rect x="116.83" y="1068.63" width="4.17" height="2.23" rx="0.8" fill="#fbfdff" opacity="0.93"/><rect x="111.7" y="1062.2" width="19" height="15.6" fill="#fff"/><rect x="112.7" y="1062.9600000000003" width="18" height="14.6" rx="1.5" fill="url(#tg)"/><rect x="113.90" y="1065.60" width="4.17" height="2.29" rx="0.8" fill="#fbfdff" opacity="0.93"/><rect x="119.37" y="1065.60" width="4.17" height="2.29" rx="0.8" fill="#fbfdff" opacity="0.93"/><rect x="124.83" y="1065.60" width="4.17" height="2.29" rx="0.8" fill="#fbfdff" opacity="0.93"/><rect x="113.90" y="1069.39" width="4.17" height="2.29" rx="0.8" fill="#fbfdff" opacity="0.93"/><rect x="119.37" y="1069.39" width="4.17" height="2.29" rx="0.8" fill="#fbfdff" opacity="0.93"/><rect x="124.83" y="1069.39" width="4.17" height="2.29" rx="0.8" fill="#fbfdff" opacity="0.93"/><rect x="113.90" y="1073.17" width="4.17" height="2.29" rx="0.8" fill="#fbfdff" opacity="0.93"/><rect x="119.37" y="1073.17" width="4.17" height="2.29" rx="0.8" fill="#fbfdff" opacity="0.93"/><rect x="124.83" y="1073.17" width="4.17" height="2.29" rx="0.8" fill="#fbfdff" opacity="0.93"/><path d="M76.3 1100.7 L84.7 1109.1 L76.3 1117.5" fill="none" stroke="#3e4c57" stroke-width="2.1" stroke-linecap="round" stroke-linejoin="round"/><rect x="104.7" y="1100.64" width="18" height="14.4" rx="1.5" fill="url(#tg)"/><rect x="105.90" y="1103.26" width="4.17" height="2.23" rx="0.8" fill="#fbfdff" opacity="0.93"/><rect x="111.37" y="1103.26" width="4.17" height="2.23" rx="0.8" fill="#fbfdff" opacity="0.93"/><rect x="116.83" y="1103.26" width="4.17" height="2.23" rx="0.8" fill="#fbfdff" opacity="0.93"/><rect x="105.90" y="1106.98" width="4.17" height="2.23" rx="0.8" fill="#fbfdff" opacity="0.93"/><rect x="111.37" y="1106.98" width="4.17" height="2.23" rx="0.8" fill="#fbfdff" opacity="0.93"/><rect x="116.83" y="1106.98" width="4.17" height="2.23" rx="0.8" fill="#fbfdff" opacity="0.93"/><rect x="105.90" y="1110.71" width="4.17" height="2.23" rx="0.8" fill="#fbfdff" opacity="0.93"/><rect x="111.37" y="1110.71" width="4.17" height="2.23" rx="0.8" fill="#fbfdff" opacity="0.93"/><rect x="116.83" y="1110.71" width="4.17" height="2.23" rx="0.8" fill="#fbfdff" opacity="0.93"/><rect x="111.7" y="1104.2" width="19" height="15.6" fill="#fff"/><rect x="112.7" y="1105.0400000000002" width="18" height="14.6" rx="1.5" fill="url(#tg)"/><rect x="113.90" y="1107.68" width="4.17" height="2.29" rx="0.8" fill="#fbfdff" opacity="0.93"/><rect x="119.37" y="1107.68" width="4.17" height="2.29" rx="0.8" fill="#fbfdff" opacity="0.93"/><rect x="124.83" y="1107.68" width="4.17" height="2.29" rx="0.8" fill="#fbfdff" opacity="0.93"/><rect x="113.90" y="1111.47" width="4.17" height="2.29" rx="0.8" fill="#fbfdff" opacity="0.93"/><rect x="119.37" y="1111.47" width="4.17" height="2.29" rx="0.8" fill="#fbfdff" opacity="0.93"/><rect x="124.83" y="1111.47" width="4.17" height="2.29" rx="0.8" fill="#fbfdff" opacity="0.93"/><rect x="113.90" y="1115.25" width="4.17" height="2.29" rx="0.8" fill="#fbfdff" opacity="0.93"/><rect x="119.37" y="1115.25" width="4.17" height="2.29" rx="0.8" fill="#fbfdff" opacity="0.93"/><rect x="124.83" y="1115.25" width="4.17" height="2.29" rx="0.8" fill="#fbfdff" opacity="0.93"/><path d="M76.3 1142.8 L84.7 1151.2 L76.3 1159.6" fill="none" stroke="#3e4c57" stroke-width="2.1" stroke-linecap="round" stroke-linejoin="round"/><rect x="104.7" y="1142.72" width="18" height="14.4" rx="1.5" fill="url(#tg)"/><rect x="105.90" y="1145.34" width="4.17" height="2.23" rx="0.8" fill="#fbfdff" opacity="0.93"/><rect x="111.37" y="1145.34" width="4.17" height="2.23" rx="0.8" fill="#fbfdff" opacity="0.93"/><rect x="116.83" y="1145.34" width="4.17" height="2.23" rx="0.8" fill="#fbfdff" opacity="0.93"/><rect x="105.90" y="1149.06" width="4.17" height="2.23" rx="0.8" fill="#fbfdff" opacity="0.93"/><rect x="111.37" y="1149.06" width="4.17" height="2.23" rx="0.8" fill="#fbfdff" opacity="0.93"/><rect x="116.83" y="1149.06" width="4.17" height="2.23" rx="0.8" fill="#fbfdff" opacity="0.93"/><rect x="105.90" y="1152.79" width="4.17" height="2.23" rx="0.8" fill="#fbfdff" opacity="0.93"/><rect x="111.37" y="1152.79" width="4.17" height="2.23" rx="0.8" fill="#fbfdff" opacity="0.93"/><rect x="116.83" y="1152.79" width="4.17" height="2.23" rx="0.8" fill="#fbfdff" opacity="0.93"/><rect x="111.7" y="1146.3" width="19" height="15.6" fill="#fff"/><rect x="112.7" y="1147.1200000000001" width="18" height="14.6" rx="1.5" fill="url(#tg)"/><rect x="113.90" y="1149.76" width="4.17" height="2.29" rx="0.8" fill="#fbfdff" opacity="0.93"/><rect x="119.37" y="1149.76" width="4.17" height="2.29" rx="0.8" fill="#fbfdff" opacity="0.93"/><rect x="124.83" y="1149.76" width="4.17" height="2.29" rx="0.8" fill="#fbfdff" opacity="0.93"/><rect x="113.90" y="1153.55" width="4.17" height="2.29" rx="0.8" fill="#fbfdff" opacity="0.93"/><rect x="119.37" y="1153.55" width="4.17" height="2.29" rx="0.8" fill="#fbfdff" opacity="0.93"/><rect x="124.83" y="1153.55" width="4.17" height="2.29" rx="0.8" fill="#fbfdff" opacity="0.93"/><rect x="113.90" y="1157.33" width="4.17" height="2.29" rx="0.8" fill="#fbfdff" opacity="0.93"/><rect x="119.37" y="1157.33" width="4.17" height="2.29" rx="0.8" fill="#fbfdff" opacity="0.93"/><rect x="124.83" y="1157.33" width="4.17" height="2.29" rx="0.8" fill="#fbfdff" opacity="0.93"/><path d="M76.3 1184.9 L84.7 1193.3 L76.3 1201.7" fill="none" stroke="#3e4c57" stroke-width="2.1" stroke-linecap="round" stroke-linejoin="round"/><rect x="104.7" y="1184.8" width="18" height="14.4" rx="1.5" fill="url(#tg)"/><rect x="105.90" y="1187.42" width="4.17" height="2.23" rx="0.8" fill="#fbfdff" opacity="0.93"/><rect x="111.37" y="1187.42" width="4.17" height="2.23" rx="0.8" fill="#fbfdff" opacity="0.93"/><rect x="116.83" y="1187.42" width="4.17" height="2.23" rx="0.8" fill="#fbfdff" opacity="0.93"/><rect x="105.90" y="1191.14" width="4.17" height="2.23" rx="0.8" fill="#fbfdff" opacity="0.93"/><rect x="111.37" y="1191.14" width="4.17" height="2.23" rx="0.8" fill="#fbfdff" opacity="0.93"/><rect x="116.83" y="1191.14" width="4.17" height="2.23" rx="0.8" fill="#fbfdff" opacity="0.93"/><rect x="105.90" y="1194.87" width="4.17" height="2.23" rx="0.8" fill="#fbfdff" opacity="0.93"/><rect x="111.37" y="1194.87" width="4.17" height="2.23" rx="0.8" fill="#fbfdff" opacity="0.93"/><rect x="116.83" y="1194.87" width="4.17" height="2.23" rx="0.8" fill="#fbfdff" opacity="0.93"/><rect x="111.7" y="1188.4" width="19" height="15.6" fill="#fff"/><rect x="112.7" y="1189.2" width="18" height="14.6" rx="1.5" fill="url(#tg)"/><rect x="113.90" y="1191.84" width="4.17" height="2.29" rx="0.8" fill="#fbfdff" opacity="0.93"/><rect x="119.37" y="1191.84" width="4.17" height="2.29" rx="0.8" fill="#fbfdff" opacity="0.93"/><rect x="124.83" y="1191.84" width="4.17" height="2.29" rx="0.8" fill="#fbfdff" opacity="0.93"/><rect x="113.90" y="1195.63" width="4.17" height="2.29" rx="0.8" fill="#fbfdff" opacity="0.93"/><rect x="119.37" y="1195.63" width="4.17" height="2.29" rx="0.8" fill="#fbfdff" opacity="0.93"/><rect x="124.83" y="1195.63" width="4.17" height="2.29" rx="0.8" fill="#fbfdff" opacity="0.93"/><rect x="113.90" y="1199.41" width="4.17" height="2.29" rx="0.8" fill="#fbfdff" opacity="0.93"/><rect x="119.37" y="1199.41" width="4.17" height="2.29" rx="0.8" fill="#fbfdff" opacity="0.93"/><rect x="124.83" y="1199.41" width="4.17" height="2.29" rx="0.8" fill="#fbfdff" opacity="0.93"/><path d="M76.3 1227.0 L84.7 1235.4 L76.3 1243.8" fill="none" stroke="#3e4c57" stroke-width="2.1" stroke-linecap="round" stroke-linejoin="round"/><rect x="104.7" y="1226.8799999999999" width="18" height="14.4" rx="1.5" fill="url(#tg)"/><rect x="105.90" y="1229.50" width="4.17" height="2.23" rx="0.8" fill="#fbfdff" opacity="0.93"/><rect x="111.37" y="1229.50" width="4.17" height="2.23" rx="0.8" fill="#fbfdff" opacity="0.93"/><rect x="116.83" y="1229.50" width="4.17" height="2.23" rx="0.8" fill="#fbfdff" opacity="0.93"/><rect x="105.90" y="1233.22" width="4.17" height="2.23" rx="0.8" fill="#fbfdff" opacity="0.93"/><rect x="111.37" y="1233.22" width="4.17" height="2.23" rx="0.8" fill="#fbfdff" opacity="0.93"/><rect x="116.83" y="1233.22" width="4.17" height="2.23" rx="0.8" fill="#fbfdff" opacity="0.93"/><rect x="105.90" y="1236.95" width="4.17" height="2.23" rx="0.8" fill="#fbfdff" opacity="0.93"/><rect x="111.37" y="1236.95" width="4.17" height="2.23" rx="0.8" fill="#fbfdff" opacity="0.93"/><rect x="116.83" y="1236.95" width="4.17" height="2.23" rx="0.8" fill="#fbfdff" opacity="0.93"/><rect x="111.7" y="1230.5" width="19" height="15.6" fill="#fff"/><rect x="112.7" y="1231.28" width="18" height="14.6" rx="1.5" fill="url(#tg)"/><rect x="113.90" y="1233.92" width="4.17" height="2.29" rx="0.8" fill="#fbfdff" opacity="0.93"/><rect x="119.37" y="1233.92" width="4.17" height="2.29" rx="0.8" fill="#fbfdff" opacity="0.93"/><rect x="124.83" y="1233.92" width="4.17" height="2.29" rx="0.8" fill="#fbfdff" opacity="0.93"/><rect x="113.90" y="1237.71" width="4.17" height="2.29" rx="0.8" fill="#fbfdff" opacity="0.93"/><rect x="119.37" y="1237.71" width="4.17" height="2.29" rx="0.8" fill="#fbfdff" opacity="0.93"/><rect x="124.83" y="1237.71" width="4.17" height="2.29" rx="0.8" fill="#fbfdff" opacity="0.93"/><rect x="113.90" y="1241.49" width="4.17" height="2.29" rx="0.8" fill="#fbfdff" opacity="0.93"/><rect x="119.37" y="1241.49" width="4.17" height="2.29" rx="0.8" fill="#fbfdff" opacity="0.93"/><rect x="124.83" y="1241.49" width="4.17" height="2.29" rx="0.8" fill="#fbfdff" opacity="0.93"/><path d="M52.6 1269.1 L61.0 1277.5 L52.6 1285.9" fill="none" stroke="#3e4c57" stroke-width="2.1" stroke-linecap="round" stroke-linejoin="round"/><rect x="81.0" y="1268.96" width="18" height="14.4" rx="1.5" fill="url(#tg)"/><rect x="82.20" y="1271.58" width="4.17" height="2.23" rx="0.8" fill="#fbfdff" opacity="0.93"/><rect x="87.67" y="1271.58" width="4.17" height="2.23" rx="0.8" fill="#fbfdff" opacity="0.93"/><rect x="93.13" y="1271.58" width="4.17" height="2.23" rx="0.8" fill="#fbfdff" opacity="0.93"/><rect x="82.20" y="1275.30" width="4.17" height="2.23" rx="0.8" fill="#fbfdff" opacity="0.93"/><rect x="87.67" y="1275.30" width="4.17" height="2.23" rx="0.8" fill="#fbfdff" opacity="0.93"/><rect x="93.13" y="1275.30" width="4.17" height="2.23" rx="0.8" fill="#fbfdff" opacity="0.93"/><rect x="82.20" y="1279.03" width="4.17" height="2.23" rx="0.8" fill="#fbfdff" opacity="0.93"/><rect x="87.67" y="1279.03" width="4.17" height="2.23" rx="0.8" fill="#fbfdff" opacity="0.93"/><rect x="93.13" y="1279.03" width="4.17" height="2.23" rx="0.8" fill="#fbfdff" opacity="0.93"/><rect x="88.0" y="1272.6" width="19" height="15.6" fill="#fff"/><rect x="89.0" y="1273.3600000000001" width="18" height="14.6" rx="1.5" fill="url(#tg)"/><rect x="90.20" y="1276.00" width="4.17" height="2.29" rx="0.8" fill="#fbfdff" opacity="0.93"/><rect x="95.67" y="1276.00" width="4.17" height="2.29" rx="0.8" fill="#fbfdff" opacity="0.93"/><rect x="101.13" y="1276.00" width="4.17" height="2.29" rx="0.8" fill="#fbfdff" opacity="0.93"/><rect x="90.20" y="1279.79" width="4.17" height="2.29" rx="0.8" fill="#fbfdff" opacity="0.93"/><rect x="95.67" y="1279.79" width="4.17" height="2.29" rx="0.8" fill="#fbfdff" opacity="0.93"/><rect x="101.13" y="1279.79" width="4.17" height="2.29" rx="0.8" fill="#fbfdff" opacity="0.93"/><rect x="90.20" y="1283.57" width="4.17" height="2.29" rx="0.8" fill="#fbfdff" opacity="0.93"/><rect x="95.67" y="1283.57" width="4.17" height="2.29" rx="0.8" fill="#fbfdff" opacity="0.93"/><rect x="101.13" y="1283.57" width="4.17" height="2.29" rx="0.8" fill="#fbfdff" opacity="0.93"/><path d="M52.6 1311.1 L61.0 1319.5 L52.6 1327.9" fill="none" stroke="#3e4c57" stroke-width="2.1" stroke-linecap="round" stroke-linejoin="round"/><rect x="81.0" y="1311.04" width="18" height="14.4" rx="1.5" fill="url(#tg)"/><rect x="82.20" y="1313.66" width="4.17" height="2.23" rx="0.8" fill="#fbfdff" opacity="0.93"/><rect x="87.67" y="1313.66" width="4.17" height="2.23" rx="0.8" fill="#fbfdff" opacity="0.93"/><rect x="93.13" y="1313.66" width="4.17" height="2.23" rx="0.8" fill="#fbfdff" opacity="0.93"/><rect x="82.20" y="1317.38" width="4.17" height="2.23" rx="0.8" fill="#fbfdff" opacity="0.93"/><rect x="87.67" y="1317.38" width="4.17" height="2.23" rx="0.8" fill="#fbfdff" opacity="0.93"/><rect x="93.13" y="1317.38" width="4.17" height="2.23" rx="0.8" fill="#fbfdff" opacity="0.93"/><rect x="82.20" y="1321.11" width="4.17" height="2.23" rx="0.8" fill="#fbfdff" opacity="0.93"/><rect x="87.67" y="1321.11" width="4.17" height="2.23" rx="0.8" fill="#fbfdff" opacity="0.93"/><rect x="93.13" y="1321.11" width="4.17" height="2.23" rx="0.8" fill="#fbfdff" opacity="0.93"/><rect x="88.0" y="1314.6" width="19" height="15.6" fill="#fff"/><rect x="89.0" y="1315.44" width="18" height="14.6" rx="1.5" fill="url(#tg)"/><rect x="90.20" y="1318.08" width="4.17" height="2.29" rx="0.8" fill="#fbfdff" opacity="0.93"/><rect x="95.67" y="1318.08" width="4.17" height="2.29" rx="0.8" fill="#fbfdff" opacity="0.93"/><rect x="101.13" y="1318.08" width="4.17" height="2.29" rx="0.8" fill="#fbfdff" opacity="0.93"/><rect x="90.20" y="1321.87" width="4.17" height="2.29" rx="0.8" fill="#fbfdff" opacity="0.93"/><rect x="95.67" y="1321.87" width="4.17" height="2.29" rx="0.8" fill="#fbfdff" opacity="0.93"/><rect x="101.13" y="1321.87" width="4.17" height="2.29" rx="0.8" fill="#fbfdff" opacity="0.93"/><rect x="90.20" y="1325.65" width="4.17" height="2.29" rx="0.8" fill="#fbfdff" opacity="0.93"/><rect x="95.67" y="1325.65" width="4.17" height="2.29" rx="0.8" fill="#fbfdff" opacity="0.93"/><rect x="101.13" y="1325.65" width="4.17" height="2.29" rx="0.8" fill="#fbfdff" opacity="0.93"/><path d="M52.6 1353.2 L61.0 1361.6 L52.6 1370.0" fill="none" stroke="#3e4c57" stroke-width="2.1" stroke-linecap="round" stroke-linejoin="round"/><rect x="81.0" y="1353.1200000000001" width="18" height="14.4" rx="1.5" fill="url(#tg)"/><rect x="82.20" y="1355.74" width="4.17" height="2.23" rx="0.8" fill="#fbfdff" opacity="0.93"/><rect x="87.67" y="1355.74" width="4.17" height="2.23" rx="0.8" fill="#fbfdff" opacity="0.93"/><rect x="93.13" y="1355.74" width="4.17" height="2.23" rx="0.8" fill="#fbfdff" opacity="0.93"/><rect x="82.20" y="1359.46" width="4.17" height="2.23" rx="0.8" fill="#fbfdff" opacity="0.93"/><rect x="87.67" y="1359.46" width="4.17" height="2.23" rx="0.8" fill="#fbfdff" opacity="0.93"/><rect x="93.13" y="1359.46" width="4.17" height="2.23" rx="0.8" fill="#fbfdff" opacity="0.93"/><rect x="82.20" y="1363.19" width="4.17" height="2.23" rx="0.8" fill="#fbfdff" opacity="0.93"/><rect x="87.67" y="1363.19" width="4.17" height="2.23" rx="0.8" fill="#fbfdff" opacity="0.93"/><rect x="93.13" y="1363.19" width="4.17" height="2.23" rx="0.8" fill="#fbfdff" opacity="0.93"/><rect x="88.0" y="1356.7" width="19" height="15.6" fill="#fff"/><rect x="89.0" y="1357.5200000000002" width="18" height="14.6" rx="1.5" fill="url(#tg)"/><rect x="90.20" y="1360.16" width="4.17" height="2.29" rx="0.8" fill="#fbfdff" opacity="0.93"/><rect x="95.67" y="1360.16" width="4.17" height="2.29" rx="0.8" fill="#fbfdff" opacity="0.93"/><rect x="101.13" y="1360.16" width="4.17" height="2.29" rx="0.8" fill="#fbfdff" opacity="0.93"/><rect x="90.20" y="1363.95" width="4.17" height="2.29" rx="0.8" fill="#fbfdff" opacity="0.93"/><rect x="95.67" y="1363.95" width="4.17" height="2.29" rx="0.8" fill="#fbfdff" opacity="0.93"/><rect x="101.13" y="1363.95" width="4.17" height="2.29" rx="0.8" fill="#fbfdff" opacity="0.93"/><rect x="90.20" y="1367.73" width="4.17" height="2.29" rx="0.8" fill="#fbfdff" opacity="0.93"/><rect x="95.67" y="1367.73" width="4.17" height="2.29" rx="0.8" fill="#fbfdff" opacity="0.93"/><rect x="101.13" y="1367.73" width="4.17" height="2.29" rx="0.8" fill="#fbfdff" opacity="0.93"/><path d="M52.6 1395.3 L61.0 1403.7 L52.6 1412.1" fill="none" stroke="#3e4c57" stroke-width="2.1" stroke-linecap="round" stroke-linejoin="round"/><rect x="81.0" y="1395.2" width="18" height="14.4" rx="1.5" fill="url(#tg)"/><rect x="82.20" y="1397.82" width="4.17" height="2.23" rx="0.8" fill="#fbfdff" opacity="0.93"/><rect x="87.67" y="1397.82" width="4.17" height="2.23" rx="0.8" fill="#fbfdff" opacity="0.93"/><rect x="93.13" y="1397.82" width="4.17" height="2.23" rx="0.8" fill="#fbfdff" opacity="0.93"/><rect x="82.20" y="1401.54" width="4.17" height="2.23" rx="0.8" fill="#fbfdff" opacity="0.93"/><rect x="87.67" y="1401.54" width="4.17" height="2.23" rx="0.8" fill="#fbfdff" opacity="0.93"/><rect x="93.13" y="1401.54" width="4.17" height="2.23" rx="0.8" fill="#fbfdff" opacity="0.93"/><rect x="82.20" y="1405.27" width="4.17" height="2.23" rx="0.8" fill="#fbfdff" opacity="0.93"/><rect x="87.67" y="1405.27" width="4.17" height="2.23" rx="0.8" fill="#fbfdff" opacity="0.93"/><rect x="93.13" y="1405.27" width="4.17" height="2.23" rx="0.8" fill="#fbfdff" opacity="0.93"/><rect x="88.0" y="1398.8" width="19" height="15.6" fill="#fff"/><rect x="89.0" y="1399.6000000000001" width="18" height="14.6" rx="1.5" fill="url(#tg)"/><rect x="90.20" y="1402.24" width="4.17" height="2.29" rx="0.8" fill="#fbfdff" opacity="0.93"/><rect x="95.67" y="1402.24" width="4.17" height="2.29" rx="0.8" fill="#fbfdff" opacity="0.93"/><rect x="101.13" y="1402.24" width="4.17" height="2.29" rx="0.8" fill="#fbfdff" opacity="0.93"/><rect x="90.20" y="1406.03" width="4.17" height="2.29" rx="0.8" fill="#fbfdff" opacity="0.93"/><rect x="95.67" y="1406.03" width="4.17" height="2.29" rx="0.8" fill="#fbfdff" opacity="0.93"/><rect x="101.13" y="1406.03" width="4.17" height="2.29" rx="0.8" fill="#fbfdff" opacity="0.93"/><rect x="90.20" y="1409.81" width="4.17" height="2.29" rx="0.8" fill="#fbfdff" opacity="0.93"/><rect x="95.67" y="1409.81" width="4.17" height="2.29" rx="0.8" fill="#fbfdff" opacity="0.93"/><rect x="101.13" y="1409.81" width="4.17" height="2.29" rx="0.8" fill="#fbfdff" opacity="0.93"/><path d="M52.6 1437.4 L61.0 1445.8 L52.6 1454.2" fill="none" stroke="#3e4c57" stroke-width="2.1" stroke-linecap="round" stroke-linejoin="round"/><rect x="81.0" y="1437.28" width="18" height="14.4" rx="1.5" fill="url(#tg)"/><rect x="82.20" y="1439.90" width="4.17" height="2.23" rx="0.8" fill="#fbfdff" opacity="0.93"/><rect x="87.67" y="1439.90" width="4.17" height="2.23" rx="0.8" fill="#fbfdff" opacity="0.93"/><rect x="93.13" y="1439.90" width="4.17" height="2.23" rx="0.8" fill="#fbfdff" opacity="0.93"/><rect x="82.20" y="1443.62" width="4.17" height="2.23" rx="0.8" fill="#fbfdff" opacity="0.93"/><rect x="87.67" y="1443.62" width="4.17" height="2.23" rx="0.8" fill="#fbfdff" opacity="0.93"/><rect x="93.13" y="1443.62" width="4.17" height="2.23" rx="0.8" fill="#fbfdff" opacity="0.93"/><rect x="82.20" y="1447.35" width="4.17" height="2.23" rx="0.8" fill="#fbfdff" opacity="0.93"/><rect x="87.67" y="1447.35" width="4.17" height="2.23" rx="0.8" fill="#fbfdff" opacity="0.93"/><rect x="93.13" y="1447.35" width="4.17" height="2.23" rx="0.8" fill="#fbfdff" opacity="0.93"/><rect x="88.0" y="1440.9" width="19" height="15.6" fill="#fff"/><rect x="89.0" y="1441.68" width="18" height="14.6" rx="1.5" fill="url(#tg)"/><rect x="90.20" y="1444.32" width="4.17" height="2.29" rx="0.8" fill="#fbfdff" opacity="0.93"/><rect x="95.67" y="1444.32" width="4.17" height="2.29" rx="0.8" fill="#fbfdff" opacity="0.93"/><rect x="101.13" y="1444.32" width="4.17" height="2.29" rx="0.8" fill="#fbfdff" opacity="0.93"/><rect x="90.20" y="1448.11" width="4.17" height="2.29" rx="0.8" fill="#fbfdff" opacity="0.93"/><rect x="95.67" y="1448.11" width="4.17" height="2.29" rx="0.8" fill="#fbfdff" opacity="0.93"/><rect x="101.13" y="1448.11" width="4.17" height="2.29" rx="0.8" fill="#fbfdff" opacity="0.93"/><rect x="90.20" y="1451.89" width="4.17" height="2.29" rx="0.8" fill="#fbfdff" opacity="0.93"/><rect x="95.67" y="1451.89" width="4.17" height="2.29" rx="0.8" fill="#fbfdff" opacity="0.93"/><rect x="101.13" y="1451.89" width="4.17" height="2.29" rx="0.8" fill="#fbfdff" opacity="0.93"/><path d="M640 358 L649.5 348 L659 358 Z" fill="#066aab"/><rect x="641" y="376" width="18" height="761" rx="9" fill="#066aab"/><path d="M640 1431 L649.5 1440.5 L659 1431 Z" fill="#066aab"/></svg>
<div class="a" style="left:0px;top:1500px;width:700px;height:23px;background:#f3f3f3;"></div>
<div class="a" style="left:0px;top:1516px;width:2608px;height:7px;background:#f3f3f3;"></div>
<div class="a" style="left:-14px;top:1482.5px;width:686px;height:34.299999999999955px;background:#f3f5f4;border-radius:0 0 0 24px;border-top:1px solid #dfe1e1;border-bottom:1px solid #d2d4d4;box-sizing:border-box;box-shadow:0 -2px 5px rgba(0,0,0,0.14);"></div>
<svg style="left:0;top:0" width="700" height="1525"><rect x="301" y="1494" width="24" height="21" rx="2.0" fill="url(#tg)"/><rect x="302.20" y="1497.54" width="6.17" height="4.12" rx="0.8" fill="#fbfdff" opacity="0.93"/><rect x="309.67" y="1497.54" width="6.17" height="4.12" rx="0.8" fill="#fbfdff" opacity="0.93"/><rect x="317.13" y="1497.54" width="6.17" height="4.12" rx="0.8" fill="#fbfdff" opacity="0.93"/><rect x="302.20" y="1503.16" width="6.17" height="4.12" rx="0.8" fill="#fbfdff" opacity="0.93"/><rect x="309.67" y="1503.16" width="6.17" height="4.12" rx="0.8" fill="#fbfdff" opacity="0.93"/><rect x="317.13" y="1503.16" width="6.17" height="4.12" rx="0.8" fill="#fbfdff" opacity="0.93"/><rect x="302.20" y="1508.78" width="6.17" height="4.12" rx="0.8" fill="#fbfdff" opacity="0.93"/><rect x="309.67" y="1508.78" width="6.17" height="4.12" rx="0.8" fill="#fbfdff" opacity="0.93"/><rect x="317.13" y="1508.78" width="6.17" height="4.12" rx="0.8" fill="#fbfdff" opacity="0.93"/><circle cx="438" cy="1507" r="4.6" fill="none" stroke="#066aab" stroke-width="2.9"/><circle cx="578" cy="1507" r="5" fill="#13876a"/></svg>
<div class="a" style="left:696px;top:1515.8px;width:1912px;height:1.0px;background:#d8d8d8;"></div>
<div class="a" style="left:0px;top:1523px;width:2608px;height:2px;background:#2b3640;"></div>
<div class="a" style="left:672px;top:128px;width:24px;height:1388px;background:#cccccc;border-left:1px solid #bcbcbc;border-right:1px solid #bcbcbc;box-sizing:border-box;"></div>
<div class="a" style="left:696px;top:128px;width:10px;height:1388px;background:linear-gradient(to right, rgba(0,0,0,0.11), rgba(0,0,0,0));"></div>
<svg style="left:0;top:0" width="720" height="900"><path d="M689 794.6 L679.7 800.3 L689 806 Z" fill="#066aab"/><circle cx="684" cy="828.8" r="4" fill="#0a78be"/><circle cx="684" cy="838.2" r="4" fill="#0a78be"/><circle cx="684" cy="847.6" r="4" fill="#0a78be"/></svg>
<div class="a" style="left:756px;top:164.7px;width:1792px;height:348.3px;background:#fff;box-shadow:0 0 10px rgba(0,0,0,0.13);"></div>
<svg style="left:0;top:0" width="2608" height="260"><path d="M2466.8 224.9 C2474.2 212.6 2489.8 212.6 2497.2 224.9 C2489.8 237.2 2474.2 237.2 2466.8 224.9 Z" fill="#0a78be"/><circle cx="2482" cy="224.9" r="6" fill="#fff"/><circle cx="2482" cy="224.9" r="3.7" fill="#0a78be"/></svg>
<div class="a" style="left:756px;top:609px;width:1792px;height:1.5px;background:#dcdee1;"></div>
<div class="a" style="left:1235.7px;top:603px;width:240.29999999999995px;height:6px;background:#066aab;"></div>
<div class="a" style="left:756px;top:664px;width:1792px;height:45px;background:#43505a;"></div>
<div class="a" style="left:756px;top:709px;width:1792px;height:73px;background:#d4e0ec;"></div>
<div class="a" style="left:756px;top:842px;width:1792px;height:60px;background:#f2f2f2;"></div>
<div class="a" style="left:756px;top:962px;width:1792px;height:60px;background:#f2f2f2;"></div>
<div class="a" style="left:756px;top:1082px;width:1792px;height:60px;background:#f2f2f2;"></div>
<div class="a" style="left:756px;top:1202px;width:1792px;height:60px;background:#f2f2f2;"></div>
<div class="a" style="left:756px;top:1322px;width:1792px;height:60px;background:#f2f2f2;"></div>
<div class="a" style="left:756px;top:1382px;width:1792px;height:1px;background:#dcdee0;"></div>
<div class="a" style="left:996px;top:664px;width:1px;height:45px;background:#d3d6d9;"></div>
<div class="a" style="left:996px;top:709px;width:1px;height:673px;background:#dcdee0;"></div>
<div class="a" style="left:1324px;top:664px;width:1px;height:45px;background:#d3d6d9;"></div>
<div class="a" style="left:1324px;top:709px;width:1px;height:673px;background:#dcdee0;"></div>
<div class="a" style="left:1652px;top:664px;width:1px;height:45px;background:#d3d6d9;"></div>
<div class="a" style="left:1652px;top:709px;width:1px;height:673px;background:#dcdee0;"></div>
<div class="a" style="left:1980px;top:664px;width:1px;height:45px;background:#d3d6d9;"></div>
<div class="a" style="left:1980px;top:709px;width:1px;height:673px;background:#dcdee0;"></div>
<div class="a" style="left:2308px;top:664px;width:1px;height:45px;background:#d3d6d9;"></div>
<div class="a" style="left:2308px;top:709px;width:1px;height:673px;background:#dcdee0;"></div>
<div class="a" style="left:768px;top:724.5px;width:215.29999999999995px;height:42.89999999999998px;background:#fff;"></div>
<div class="a" style="left:940.7px;top:724.9px;width:42.59999999999991px;height:41.299999999999955px;background:#fff;border:1px solid #dcdcdc;border-radius:3px;box-sizing:border-box;"></div>
<svg style="left:0;top:0" width="2608" height="800"><path d="M952.8 736.4 H971.2 L963.8 744.0 L963.8 752.2 L960.5 755.4 L960.5 744.0 Z" fill="#6e7f8f" stroke="#6e7f8f" stroke-width="0.6" stroke-linejoin="round"/></svg>
<div class="a" style="left:933px;top:724.5px;width:7.7000000000000455px;height:42.89999999999998px;background:#d4e0ec;"></div>
<div class="a" style="left:1009px;top:723.8px;width:302.4000000000001px;height:44.80000000000007px;background:#fff;"></div>
<div class="a" style="left:1268.6px;top:724.1999999999999px;width:42.80000000000018px;height:43.200000000000045px;background:#fff;border:1px solid #dcdcdc;border-radius:3px;box-sizing:border-box;"></div>
<svg style="left:0;top:0" width="2608" height="800"><path d="M1280.8 736.6 H1299.2 L1291.8 744.2 L1291.8 752.4 L1288.5 755.6 L1288.5 744.2 Z" fill="#6e7f8f" stroke="#6e7f8f" stroke-width="0.6" stroke-linejoin="round"/></svg>
<div class="a" style="left:1337.5px;top:721.4px;width:303.29999999999995px;height:49.39999999999998px;background:#fff;border:1px solid #e4e8ec;box-sizing:border-box;"></div>
<svg style="left:0;top:0" width="2608" height="800"><path d="M1601.5 739.5 L1613 751 L1624.5 739.5" fill="none" stroke="#0a78be" stroke-width="1.8"/></svg>
<div class="a" style="left:1666px;top:724px;width:302.5999999999999px;height:45px;background:#fff;"></div>
<div class="a" style="left:1925.6px;top:724.4px;width:43.0px;height:43.39999999999998px;background:#fff;border:1px solid #dcdcdc;border-radius:3px;box-sizing:border-box;"></div>
<svg style="left:0;top:0" width="2608" height="800"><path d="M1937.9 736.9 H1956.3 L1948.9 744.5 L1948.9 752.7 L1945.6 755.9 L1945.6 744.5 Z" fill="#6e7f8f" stroke="#6e7f8f" stroke-width="0.6" stroke-linejoin="round"/></svg>
<div class="a" style="left:1994px;top:724px;width:303.4000000000001px;height:45px;background:#fff;"></div>
<div class="a" style="left:2254.4px;top:724.4px;width:43.0px;height:43.39999999999998px;background:#fff;border:1px solid #dcdcdc;border-radius:3px;box-sizing:border-box;"></div>
<svg style="left:0;top:0" width="2608" height="800"><path d="M2266.7 736.9 H2285.1 L2277.7 744.5 L2277.7 752.7 L2274.4 755.9 L2274.4 744.5 Z" fill="#6e7f8f" stroke="#6e7f8f" stroke-width="0.6" stroke-linejoin="round"/></svg>
<svg style="left:0;top:0" width="2608" height="800"><path d="M799.5 689 L806 682.5 L812.5 689" fill="none" stroke="#fff" stroke-width="1.8"/></svg>
<div class="a" style="left:857.3px;top:1395.2px;width:87.30000000000007px;height:44.299999999999955px;background:#fff;border:1px solid #d0d0d0;box-sizing:border-box;"></div>
<div class="a" style="left:857.3px;top:1395.2px;width:43.700000000000045px;height:44.299999999999955px;background:#066aab;"></div>
<svg style="left:0;top:0" width="1100" height="1525">
<rect x="784.3" y="1410.7" width="1.7" height="11.6" fill="#8a8a8a"/><path d="M795.1 1410.7 L786.4 1416.5 L795.1 1422.3 Z" fill="#8a8a8a"/>
<path d="M840 1410.7 L831 1416.5 L840 1422.3 Z" fill="#8a8a8a"/>
<path d="M962.8 1410.7 L972 1416.5 L962.8 1422.3 Z" fill="#3a3a3a"/>
<path d="M1006.3 1410.7 L1015 1416.5 L1006.3 1422.3 Z" fill="#3a3a3a"/><rect x="1015.3" y="1410.7" width="1.7" height="11.6" fill="#3a3a3a"/>
</svg>
<div class="tx" id="t0" style="left:51.93px;top:38.30px;font-size:15px;line-height:15px;font-weight:700;color:#ffffff;transform:scaleX(1.0683);">HOME</div>
<div class="tx" id="t1" style="left:156.11px;top:18.68px;font-size:24px;line-height:24px;font-weight:700;color:#ffffff;transform:scaleX(0.8934);">Report an Occurrence</div>
<div class="tx" id="t2" style="left:440.80px;top:18.68px;font-size:24px;line-height:24px;font-weight:700;color:#ffffff;transform:scaleX(0.8764);">Taxonomy</div>
<div class="tx" id="t3" style="left:46.00px;top:85.18px;font-size:24px;line-height:24px;font-weight:400;color:#3e4c57;transform:scaleX(0.9815);-webkit-text-stroke:0.75px #3e4c57;">TAXONOMY BROWSER</div>
<div class="tx" id="t4" style="left:325.44px;top:85.18px;font-size:24px;line-height:24px;font-weight:400;color:#3e4c57;transform:scaleX(0.9633);">6.0.0.0</div>
<div class="tx" id="t5" style="left:432.04px;top:85.18px;font-size:24px;line-height:24px;font-weight:400;color:#3e4c57;transform:scaleX(0.9591);">Released</div>
<div class="tx" id="t6" style="left:565.00px;top:85.18px;font-size:24px;line-height:24px;font-weight:400;color:#3e4c57;transform:scaleX(0.9599);">Taxonomy</div>
<div class="tx" id="t7" style="left:704.98px;top:85.18px;font-size:24px;line-height:24px;font-weight:400;color:#3e4c57;transform:scaleX(1.0111);">International Organisations</div>
<div class="tx" id="t8" style="left:1032.08px;top:85.18px;font-size:24px;line-height:24px;font-weight:400;color:#3e4c57;transform:scaleX(0.9173);">EASA_ECCAIRS</div>
<div class="tx" id="t9" style="left:1216.96px;top:85.18px;font-size:24px;line-height:24px;font-weight:400;color:#3e4c57;transform:scaleX(1.0367);">28-Jul-2025</div>
<div class="tx" id="t10" style="left:46.01px;top:167.57px;font-size:22px;line-height:22px;font-weight:400;color:#6e6e6e;font-style:italic;transform:scaleX(0.9878);">type to filter</div>
<div class="tx" id="t11" style="left:92.80px;top:341.22px;font-size:21px;line-height:21px;font-weight:400;color:#3e4c57;">Occurrence</div>
<div class="tx" id="t12" style="left:102.00px;top:383.30px;font-size:21px;line-height:21px;font-weight:400;color:#3e4c57;transform:scaleX(1.0530);">All Attributes</div>
<div class="tx" id="t13" style="left:117.60px;top:425.38px;font-size:21px;line-height:21px;font-weight:400;color:#3e4c57;transform:scaleX(0.9872);">Aerodrome General</div>
<div class="tx" id="t14" style="left:117.60px;top:467.46px;font-size:21px;line-height:21px;font-weight:400;color:#3e4c57;">Aerodrome Weather Reports</div>
<div class="tx" id="t15" style="left:117.60px;top:509.54px;font-size:21px;line-height:21px;font-weight:400;color:#3e4c57;transform:scaleX(0.9869);">Air Navigation Service</div>
<div class="tx" id="t16" style="left:117.60px;top:551.62px;font-size:21px;line-height:21px;font-weight:400;color:#3e4c57;transform:scaleX(0.9428);">Air Space</div>
<div class="tx" id="t17" style="left:117.60px;top:593.70px;font-size:21px;line-height:21px;font-weight:400;color:#3e4c57;transform:scaleX(1.0619);">Aircraft</div>
<div class="tx" id="t18" style="left:125.80px;top:635.78px;font-size:21px;line-height:21px;font-weight:400;color:#3e4c57;transform:scaleX(1.0530);">All Attributes</div>
<div class="tx" id="t19" style="left:141.70px;top:677.86px;font-size:21px;line-height:21px;font-weight:400;color:#3e4c57;transform:scaleX(0.9887);">Aircraft Fire Suppression</div>
<div class="tx" id="t20" style="left:140.74px;top:719.94px;font-size:21px;line-height:21px;font-weight:400;color:#3e4c57;transform:scaleX(0.9590);">Engine</div>
<div class="tx" id="t21" style="left:140.70px;top:762.02px;font-size:21px;line-height:21px;font-weight:400;color:#3e4c57;">Flight Crew Member</div>
<div class="tx" id="t22" style="left:140.71px;top:804.10px;font-size:21px;line-height:21px;font-weight:400;color:#3e4c57;transform:scaleX(0.9915);">Floatation Devices</div>
<div class="tx" id="t23" style="left:140.73px;top:846.18px;font-size:21px;line-height:21px;font-weight:400;color:#3e4c57;transform:scaleX(0.9655);">GPWS warning and reaction in CFIT</div>
<div class="tx" id="t24" style="left:140.69px;top:888.26px;font-size:21px;line-height:21px;font-weight:400;color:#3e4c57;transform:scaleX(1.0109);">Incapacitation</div>
<div class="tx" id="t25" style="left:140.66px;top:930.34px;font-size:21px;line-height:21px;font-weight:400;color:#3e4c57;transform:scaleX(1.0418);">Narrative</div>
<div class="tx" id="t26" style="left:140.65px;top:972.42px;font-size:21px;line-height:21px;font-weight:400;color:#3e4c57;transform:scaleX(1.0450);">Note</div>
<div class="tx" id="t27" style="left:140.70px;top:1014.50px;font-size:21px;line-height:21px;font-weight:400;color:#3e4c57;transform:scaleX(0.9963);">Other Aircraft Recording Devices</div>
<div class="tx" id="t28" style="left:140.72px;top:1056.58px;font-size:21px;line-height:21px;font-weight:400;color:#3e4c57;transform:scaleX(0.9834);">Other Personnel on board</div>
<div class="tx" id="t29" style="left:140.68px;top:1098.66px;font-size:21px;line-height:21px;font-weight:400;color:#3e4c57;transform:scaleX(1.0236);">Part Information</div>
<div class="tx" id="t30" style="left:140.69px;top:1140.74px;font-size:21px;line-height:21px;font-weight:400;color:#3e4c57;transform:scaleX(1.0103);">Propeller</div>
<div class="tx" id="t31" style="left:141.70px;top:1182.82px;font-size:21px;line-height:21px;font-weight:400;color:#3e4c57;transform:scaleX(0.9824);">Search Difficulties, Method and Time</div>
<div class="tx" id="t32" style="left:141.70px;top:1224.90px;font-size:21px;line-height:21px;font-weight:400;color:#3e4c57;transform:scaleX(1.0126);">Weather Briefing</div>
<div class="tx" id="t33" style="left:116.59px;top:1266.98px;font-size:21px;line-height:21px;font-weight:400;color:#3e4c57;transform:scaleX(1.0128);">Control and Monitoring Unit (CMU)</div>
<div class="tx" id="t34" style="left:116.62px;top:1309.06px;font-size:21px;line-height:21px;font-weight:400;color:#3e4c57;transform:scaleX(0.9841);">CUSTOM-1</div>
<div class="tx" id="t35" style="left:116.64px;top:1351.14px;font-size:21px;line-height:21px;font-weight:400;color:#3e4c57;transform:scaleX(0.9642);">Dangerous Goods</div>
<div class="tx" id="t36" style="left:116.58px;top:1393.22px;font-size:21px;line-height:21px;font-weight:400;color:#3e4c57;transform:scaleX(1.0196);">DB History</div>
<div class="tx" id="t37" style="left:116.64px;top:1435.30px;font-size:21px;line-height:21px;font-weight:400;color:#3e4c57;transform:scaleX(0.9633);">Events</div>
<div class="tx" id="t38" style="left:791.72px;top:204.29px;font-size:28px;line-height:28px;font-weight:700;color:#3e4c57;transform:scaleX(0.8761);">Engine</div>
<div class="tx" id="t39" style="left:791.60px;top:271.87px;font-size:22px;line-height:22px;font-weight:400;color:#3e4c57;-webkit-text-stroke:0.5px #3e4c57;transform:scaleX(1.0031);">Entity ID:</div>
<div class="tx" id="t40" style="left:953.59px;top:271.87px;font-size:22px;line-height:22px;font-weight:400;color:#3e4c57;transform:scaleX(1.0071);">13</div>
<div class="tx" id="t41" style="left:791.60px;top:313.77px;font-size:22px;line-height:22px;font-weight:400;color:#3e4c57;-webkit-text-stroke:0.5px #3e4c57;transform:scaleX(1.0033);">Detailed:</div>
<div class="tx" id="t42" style="left:953.64px;top:313.77px;font-size:22px;line-height:22px;font-weight:400;color:#3e4c57;transform:scaleX(0.9608);">Engine information</div>
<div class="tx" id="t43" style="left:791.62px;top:355.97px;font-size:22px;line-height:22px;font-weight:400;color:#3e4c57;-webkit-text-stroke:0.5px #3e4c57;transform:scaleX(0.9843);">Explanation:</div>
<div class="tx" id="t44" style="left:952.74px;top:355.97px;font-size:22px;line-height:22px;font-weight:400;color:#3e4c57;transform:scaleX(0.9286);">Information on the engines : number of cycles or hours of the engines involved. Not only used for failure of the engines, but whenever at hand.</div>
<div class="tx" id="t45" style="left:792.60px;top:397.77px;font-size:22px;line-height:22px;font-weight:400;color:#3e4c57;-webkit-text-stroke:0.5px #3e4c57;transform:scaleX(0.8822);">XSD Tag:</div>
<div class="tx" id="t46" style="left:953.68px;top:397.77px;font-size:22px;line-height:22px;font-weight:400;color:#3e4c57;transform:scaleX(0.9172);">Engine</div>
<div class="tx" id="t47" style="left:791.61px;top:439.37px;font-size:22px;line-height:22px;font-weight:400;color:#3e4c57;-webkit-text-stroke:0.5px #3e4c57;transform:scaleX(0.9867);">Parent:</div>
<div class="tx" id="t48" style="left:954.60px;top:439.37px;font-size:22px;line-height:22px;font-weight:400;color:#3e4c57;transform:scaleX(1.0092);">Aircraft</div>
<div class="tx" id="t49" style="left:1221.50px;top:271.87px;font-size:22px;line-height:22px;font-weight:400;color:#3e4c57;-webkit-text-stroke:0.5px #3e4c57;transform:scaleX(1.0040);">Description:</div>
<div class="tx" id="t50" style="left:1383.08px;top:271.87px;font-size:22px;line-height:22px;font-weight:400;color:#3e4c57;transform:scaleX(0.9202);">Engine</div>
<div class="tx" id="t51" style="left:807.45px;top:562.67px;font-size:22px;line-height:22px;font-weight:400;color:#4a5863;transform:scaleX(0.9474);">Parent Entities</div>
<div class="tx" id="t52" style="left:1053.44px;top:562.67px;font-size:22px;line-height:22px;font-weight:400;color:#4a5863;transform:scaleX(0.9624);">Child Entities</div>
<div class="tx" id="t53" style="left:1307.00px;top:562.67px;font-size:22px;line-height:22px;font-weight:400;color:#3e4c57;-webkit-text-stroke:0.5px #3e4c57;transform:scaleX(1.0502);">Attributes</div>
<div class="tx" id="t54" style="left:773.39px;top:677.22px;font-size:21px;line-height:21px;font-weight:400;color:#ffffff;-webkit-text-stroke:0.5px #ffffff;transform:scaleX(1.1092);">ID</div>
<div class="tx" id="t55" style="left:1014.47px;top:677.22px;font-size:21px;line-height:21px;font-weight:400;color:#ffffff;-webkit-text-stroke:0.5px #ffffff;transform:scaleX(1.0304);">Description</div>
<div class="tx" id="t56" style="left:1342.60px;top:677.22px;font-size:21px;line-height:21px;font-weight:400;color:#ffffff;-webkit-text-stroke:0.5px #ffffff;transform:scaleX(1.0034);">Custom</div>
<div class="tx" id="t57" style="left:1670.97px;top:677.22px;font-size:21px;line-height:21px;font-weight:400;color:#ffffff;-webkit-text-stroke:0.5px #ffffff;transform:scaleX(1.0333);">Mandatory</div>
<div class="tx" id="t58" style="left:1999.38px;top:677.22px;font-size:21px;line-height:21px;font-weight:400;color:#ffffff;-webkit-text-stroke:0.5px #ffffff;transform:scaleX(1.0162);">Multiple Values</div>
<div class="tx" id="t59" style="left:1349.82px;top:735.37px;font-size:22px;line-height:22px;font-weight:400;color:#454545;transform:scaleX(0.9844);">(All)</div>
<div class="tx" id="t60" style="left:774.50px;top:802.22px;font-size:21px;line-height:21px;font-weight:400;color:#3e4c57;-webkit-text-stroke:0.5px #3e4c57;transform:scaleX(1.0274);">387</div>
<div class="tx" id="t61" style="left:1014.44px;top:802.22px;font-size:21px;line-height:21px;font-weight:400;color:#3e4c57;-webkit-text-stroke:0.5px #3e4c57;transform:scaleX(1.0562);">Manufacturer/model</div>
<div class="tx" id="t62" style="left:1670.94px;top:802.22px;font-size:21px;line-height:21px;font-weight:400;color:#3e4c57;-webkit-text-stroke:0.5px #3e4c57;transform:scaleX(1.0620);">Optional</div>
<div class="tx" id="t63" style="left:2000.40px;top:802.22px;font-size:21px;line-height:21px;font-weight:400;color:#3e4c57;-webkit-text-stroke:0.5px #3e4c57;transform:scaleX(0.9672);">Single value</div>
<div class="tx" id="t64" style="left:774.50px;top:862.22px;font-size:21px;line-height:21px;font-weight:400;color:#3e4c57;-webkit-text-stroke:0.5px #3e4c57;transform:scaleX(1.0274);">388</div>
<div class="tx" id="t65" style="left:1014.53px;top:862.22px;font-size:21px;line-height:21px;font-weight:400;color:#3e4c57;-webkit-text-stroke:0.5px #3e4c57;transform:scaleX(0.9682);">Engine cycles</div>
<div class="tx" id="t66" style="left:1670.94px;top:862.22px;font-size:21px;line-height:21px;font-weight:400;color:#3e4c57;-webkit-text-stroke:0.5px #3e4c57;transform:scaleX(1.0620);">Optional</div>
<div class="tx" id="t67" style="left:2000.40px;top:862.22px;font-size:21px;line-height:21px;font-weight:400;color:#3e4c57;-webkit-text-stroke:0.5px #3e4c57;transform:scaleX(0.9672);">Single value</div>
<div class="tx" id="t68" style="left:774.50px;top:922.22px;font-size:21px;line-height:21px;font-weight:400;color:#3e4c57;-webkit-text-stroke:0.5px #3e4c57;transform:scaleX(1.0274);">389</div>
<div class="tx" id="t69" style="left:1015.50px;top:922.22px;font-size:21px;line-height:21px;font-weight:400;color:#3e4c57;-webkit-text-stroke:0.5px #3e4c57;transform:scaleX(0.9921);">Time since overhaul</div>
<div class="tx" id="t70" style="left:1670.94px;top:922.22px;font-size:21px;line-height:21px;font-weight:400;color:#3e4c57;-webkit-text-stroke:0.5px #3e4c57;transform:scaleX(1.0620);">Optional</div>
<div class="tx" id="t71" style="left:2000.40px;top:922.22px;font-size:21px;line-height:21px;font-weight:400;color:#3e4c57;-webkit-text-stroke:0.5px #3e4c57;transform:scaleX(0.9672);">Single value</div>
<div class="tx" id="t72" style="left:773.44px;top:982.22px;font-size:21px;line-height:21px;font-weight:400;color:#3e4c57;-webkit-text-stroke:0.5px #3e4c57;transform:scaleX(1.0582);">653</div>
<div class="tx" id="t73" style="left:1014.50px;top:982.22px;font-size:21px;line-height:21px;font-weight:400;color:#3e4c57;-webkit-text-stroke:0.5px #3e4c57;transform:scaleX(1.0040);">Engine position</div>
<div class="tx" id="t74" style="left:1670.94px;top:982.22px;font-size:21px;line-height:21px;font-weight:400;color:#3e4c57;-webkit-text-stroke:0.5px #3e4c57;transform:scaleX(1.0620);">Optional</div>
<div class="tx" id="t75" style="left:2000.40px;top:982.22px;font-size:21px;line-height:21px;font-weight:400;color:#3e4c57;-webkit-text-stroke:0.5px #3e4c57;transform:scaleX(0.9672);">Single value</div>
<div class="tx" id="t76" style="left:773.47px;top:1042.22px;font-size:21px;line-height:21px;font-weight:400;color:#3e4c57;-webkit-text-stroke:0.5px #3e4c57;transform:scaleX(1.0274);">654</div>
<div class="tx" id="t77" style="left:1014.48px;top:1042.22px;font-size:21px;line-height:21px;font-weight:400;color:#3e4c57;-webkit-text-stroke:0.5px #3e4c57;transform:scaleX(1.0175);">Nature of engine involvement</div>
<div class="tx" id="t78" style="left:1670.94px;top:1042.22px;font-size:21px;line-height:21px;font-weight:400;color:#3e4c57;-webkit-text-stroke:0.5px #3e4c57;transform:scaleX(1.0620);">Optional</div>
<div class="tx" id="t79" style="left:2000.40px;top:1042.22px;font-size:21px;line-height:21px;font-weight:400;color:#3e4c57;-webkit-text-stroke:0.5px #3e4c57;transform:scaleX(0.9672);">Single value</div>
<div class="tx" id="t80" style="left:773.44px;top:1102.22px;font-size:21px;line-height:21px;font-weight:400;color:#3e4c57;-webkit-text-stroke:0.5px #3e4c57;transform:scaleX(1.0582);">655</div>
<div class="tx" id="t81" style="left:1015.50px;top:1102.22px;font-size:21px;line-height:21px;font-weight:400;color:#3e4c57;-webkit-text-stroke:0.5px #3e4c57;transform:scaleX(0.9903);">Thrust loss</div>
<div class="tx" id="t82" style="left:1670.94px;top:1102.22px;font-size:21px;line-height:21px;font-weight:400;color:#3e4c57;-webkit-text-stroke:0.5px #3e4c57;transform:scaleX(1.0620);">Optional</div>
<div class="tx" id="t83" style="left:2000.40px;top:1102.22px;font-size:21px;line-height:21px;font-weight:400;color:#3e4c57;-webkit-text-stroke:0.5px #3e4c57;transform:scaleX(0.9672);">Single value</div>
<div class="tx" id="t84" style="left:773.44px;top:1162.22px;font-size:21px;line-height:21px;font-weight:400;color:#3e4c57;-webkit-text-stroke:0.5px #3e4c57;transform:scaleX(1.0582);">656</div>
<div class="tx" id="t85" style="left:1014.49px;top:1162.22px;font-size:21px;line-height:21px;font-weight:400;color:#3e4c57;-webkit-text-stroke:0.5px #3e4c57;transform:scaleX(1.0083);">Nr of birds ingested</div>
<div class="tx" id="t86" style="left:1670.94px;top:1162.22px;font-size:21px;line-height:21px;font-weight:400;color:#3e4c57;-webkit-text-stroke:0.5px #3e4c57;transform:scaleX(1.0620);">Optional</div>
<div class="tx" id="t87" style="left:2000.40px;top:1162.22px;font-size:21px;line-height:21px;font-weight:400;color:#3e4c57;-webkit-text-stroke:0.5px #3e4c57;transform:scaleX(0.9672);">Single value</div>
<div class="tx" id="t88" style="left:774.50px;top:1222.22px;font-size:21px;line-height:21px;font-weight:400;color:#3e4c57;-webkit-text-stroke:0.5px #3e4c57;transform:scaleX(1.0274);">881</div>
<div class="tx" id="t89" style="left:1014.51px;top:1222.22px;font-size:21px;line-height:21px;font-weight:400;color:#3e4c57;-webkit-text-stroke:0.5px #3e4c57;transform:scaleX(0.9901);">Engine serial number</div>
<div class="tx" id="t90" style="left:1670.94px;top:1222.22px;font-size:21px;line-height:21px;font-weight:400;color:#3e4c57;-webkit-text-stroke:0.5px #3e4c57;transform:scaleX(1.0620);">Optional</div>
<div class="tx" id="t91" style="left:2000.40px;top:1222.22px;font-size:21px;line-height:21px;font-weight:400;color:#3e4c57;-webkit-text-stroke:0.5px #3e4c57;transform:scaleX(0.9672);">Single value</div>
<div class="tx" id="t92" style="left:774.50px;top:1282.22px;font-size:21px;line-height:21px;font-weight:400;color:#3e4c57;-webkit-text-stroke:0.5px #3e4c57;transform:scaleX(1.0274);">882</div>
<div class="tx" id="t93" style="left:1015.50px;top:1282.22px;font-size:21px;line-height:21px;font-weight:400;color:#3e4c57;-webkit-text-stroke:0.5px #3e4c57;transform:scaleX(1.0138);">ATA chapter involved</div>
<div class="tx" id="t94" style="left:1670.94px;top:1282.22px;font-size:21px;line-height:21px;font-weight:400;color:#3e4c57;-webkit-text-stroke:0.5px #3e4c57;transform:scaleX(1.0620);">Optional</div>
<div class="tx" id="t95" style="left:2000.40px;top:1282.22px;font-size:21px;line-height:21px;font-weight:400;color:#3e4c57;-webkit-text-stroke:0.5px #3e4c57;transform:scaleX(0.9672);">Single value</div>
<div class="tx" id="t96" style="left:774.50px;top:1342.22px;font-size:21px;line-height:21px;font-weight:400;color:#3e4c57;-webkit-text-stroke:0.5px #3e4c57;transform:scaleX(1.0274);">883</div>
<div class="tx" id="t97" style="left:1015.50px;top:1342.22px;font-size:21px;line-height:21px;font-weight:400;color:#3e4c57;-webkit-text-stroke:0.5px #3e4c57;transform:scaleX(0.9696);">Time since new</div>
<div class="tx" id="t98" style="left:1670.94px;top:1342.22px;font-size:21px;line-height:21px;font-weight:400;color:#3e4c57;-webkit-text-stroke:0.5px #3e4c57;transform:scaleX(1.0620);">Optional</div>
<div class="tx" id="t99" style="left:2000.40px;top:1342.22px;font-size:21px;line-height:21px;font-weight:400;color:#3e4c57;-webkit-text-stroke:0.5px #3e4c57;transform:scaleX(0.9672);">Single value</div>
<div class="tx" id="t100" style="left:874.07px;top:1408.07px;font-size:20px;line-height:20px;font-weight:400;color:#ffffff;transform:scaleX(0.9300);">1</div>
<div class="tx" id="t101" style="left:916.69px;top:1408.07px;font-size:20px;line-height:20px;font-weight:400;color:#066aab;transform:scaleX(1.0100);">2</div>
<div class="tx" id="t102" style="left:2358.49px;top:1407.77px;font-size:20px;line-height:20px;font-weight:400;color:#444444;transform:scaleX(1.0064);">1 - 10 of 20 items</div>
<div class="tx" id="t103" style="left:336.47px;top:1494.22px;font-size:21px;line-height:21px;font-weight:400;color:#3e4c57;transform:scaleX(1.0317);">Entities</div>
<div class="tx" id="t104" style="left:453.00px;top:1494.22px;font-size:21px;line-height:21px;font-weight:400;color:#3e4c57;transform:scaleX(1.0657);">Attributes</div>
<div class="tx" id="t105" style="left:594.00px;top:1494.22px;font-size:21px;line-height:21px;font-weight:400;color:#13876a;font-style:italic;transform:scaleX(0.9810);">Linked</div>
</body></html>
